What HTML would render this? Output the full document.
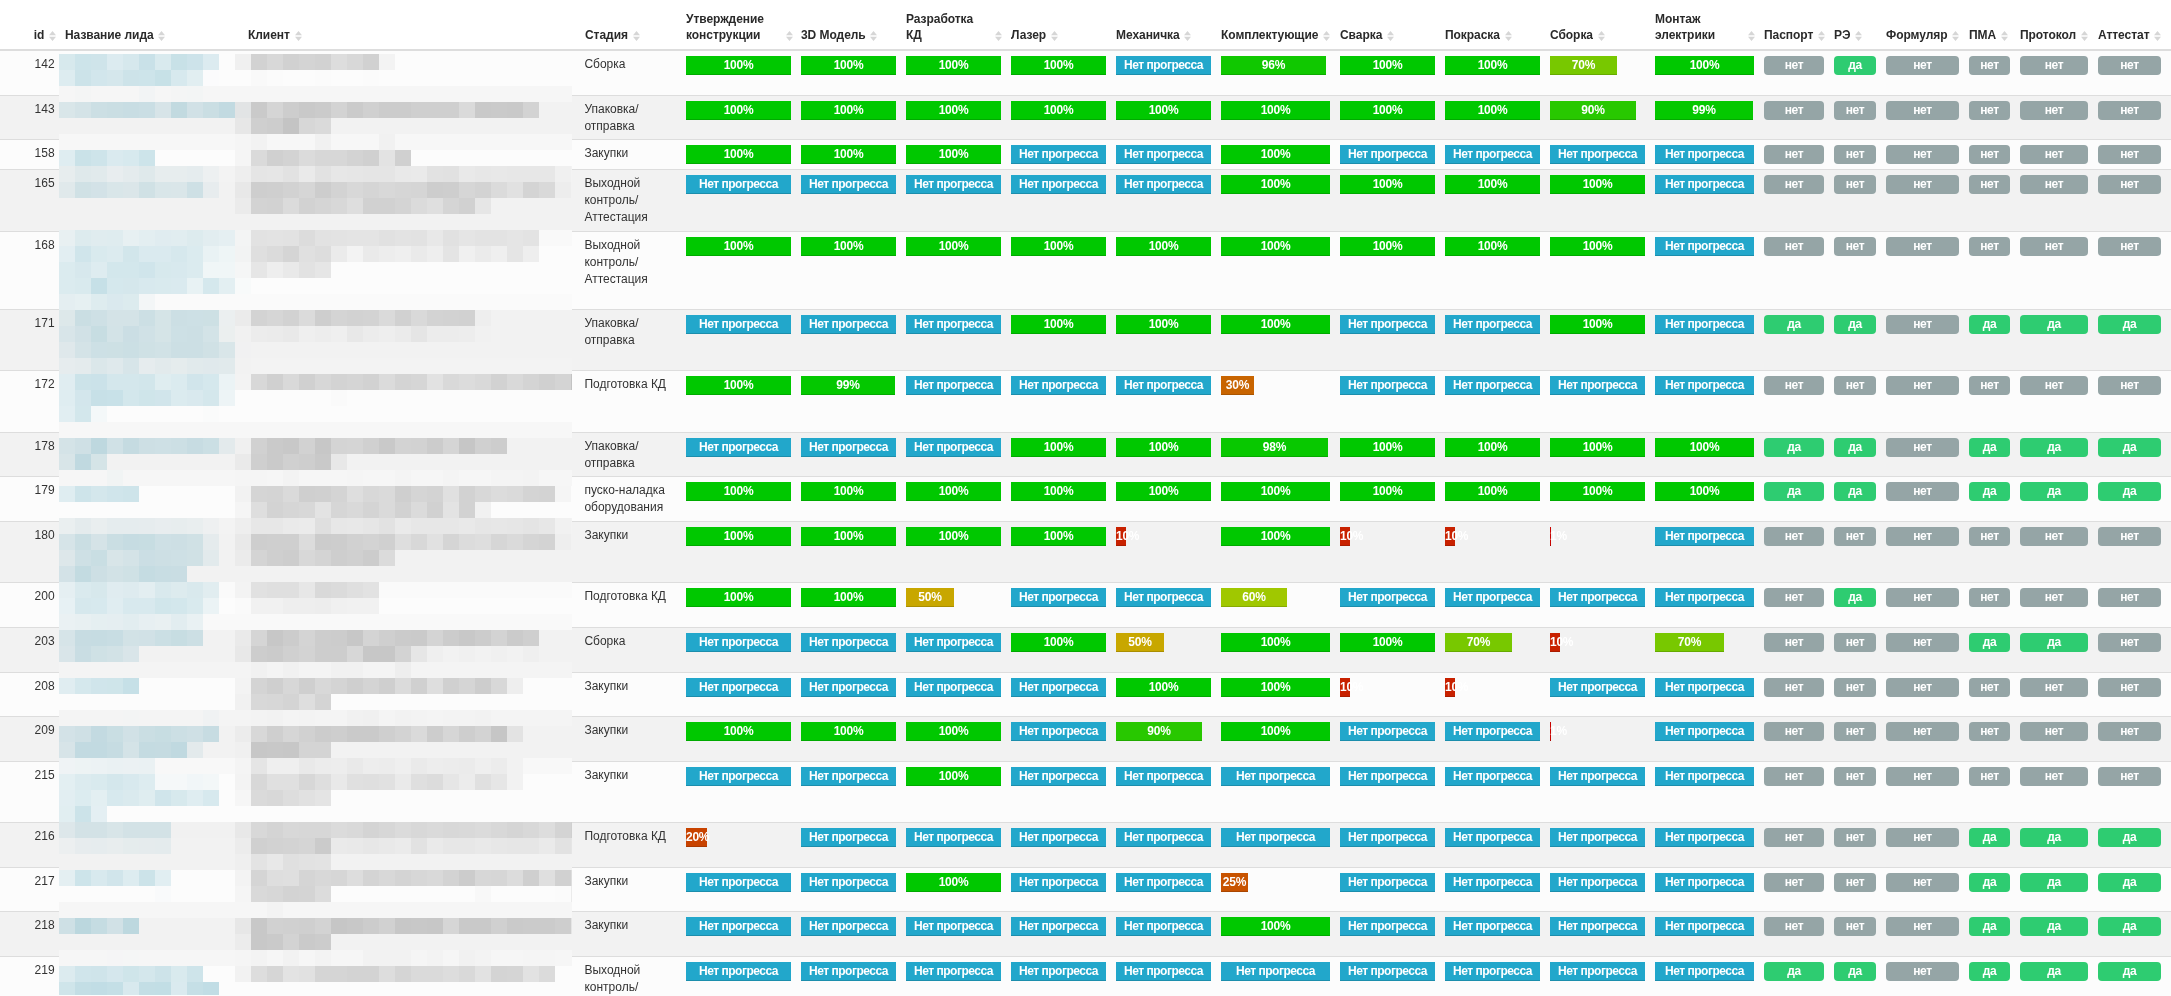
<!DOCTYPE html>
<html lang="ru"><head><meta charset="utf-8"><title>Leads</title>
<style>
html,body{margin:0;padding:0}
body{width:2171px;height:996px;overflow:hidden;position:relative;background:#fff;
 font-family:"Liberation Sans",sans-serif;font-size:12px;line-height:16.8px;color:#333333}
#w{position:absolute;left:0;top:0;width:2171px;height:996px;overflow:hidden;will-change:transform}
.h{position:absolute;display:flex;align-items:flex-end;font-weight:bold;bottom:953px;line-height:16px;color:#2a2a2a;letter-spacing:-.05px}
.h.ra{justify-content:flex-end}
.h svg{display:block;flex:none;width:7px;height:10px;margin:0 0 2px 4.7px}
.hb{position:absolute;left:0;top:49px;width:2171px;height:2px;background:#dddddd;z-index:3}
.r{position:absolute;left:0;width:2171px;box-sizing:border-box;border-top:1px solid #dddddd}
.r.o{background:#fcfcfc}.r.e{background:#f2f2f2}
.c{position:absolute;top:5px}
.id{text-align:right;left:0;width:54.6px}
.p{position:absolute;top:5px;height:19px}
.b{height:19px;line-height:19px;color:#fff;font-weight:bold;text-align:center;white-space:nowrap;letter-spacing:-.25px;
 box-shadow:inset 0 -1px 0 rgba(0,0,0,.15)}
.np{background:#22a7cb;letter-spacing:-.48px}
.g{position:absolute;top:5px;height:19px;line-height:19px;border-radius:4px;color:#fff;font-weight:bold;text-align:center;letter-spacing:-.3px;background:#95a5a6}
.g.y{background:#2ecc71}
</style></head><body><div id="w">
<div class="h ra" style="left:5px;width:51px"><span>id</span><svg viewBox="0 0 7 10"><path d="M3.5 0L7 4.2H0zM0 5.8h7L3.5 10z" fill="#d6d6d6"/></svg></div>
<div class="h" style="left:65px;width:173px"><span>Название лида</span><svg viewBox="0 0 7 10"><path d="M3.5 0L7 4.2H0zM0 5.8h7L3.5 10z" fill="#d6d6d6"/></svg></div>
<div class="h" style="left:248px;width:327px"><span>Клиент</span><svg viewBox="0 0 7 10"><path d="M3.5 0L7 4.2H0zM0 5.8h7L3.5 10z" fill="#d6d6d6"/></svg></div>
<div class="h" style="left:585px;width:91px"><span>Стадия</span><svg viewBox="0 0 7 10"><path d="M3.5 0L7 4.2H0zM0 5.8h7L3.5 10z" fill="#d6d6d6"/></svg></div>
<div class="h" style="left:686px;width:107.2px"><span>Утверждение конструкции</span><svg viewBox="0 0 7 10"><path d="M3.5 0L7 4.2H0zM0 5.8h7L3.5 10z" fill="#d6d6d6"/></svg></div>
<div class="h" style="left:801px;width:95px"><span>3D Модель</span><svg viewBox="0 0 7 10"><path d="M3.5 0L7 4.2H0zM0 5.8h7L3.5 10z" fill="#d6d6d6"/></svg></div>
<div class="h" style="left:906px;width:96.2px"><span>Разработка КД</span><svg viewBox="0 0 7 10"><path d="M3.5 0L7 4.2H0zM0 5.8h7L3.5 10z" fill="#d6d6d6"/></svg></div>
<div class="h" style="left:1011px;width:95px"><span>Лазер</span><svg viewBox="0 0 7 10"><path d="M3.5 0L7 4.2H0zM0 5.8h7L3.5 10z" fill="#d6d6d6"/></svg></div>
<div class="h" style="left:1116px;width:95px"><span>Механичка</span><svg viewBox="0 0 7 10"><path d="M3.5 0L7 4.2H0zM0 5.8h7L3.5 10z" fill="#d6d6d6"/></svg></div>
<div class="h" style="left:1221px;width:109px"><span>Комплектующие</span><svg viewBox="0 0 7 10"><path d="M3.5 0L7 4.2H0zM0 5.8h7L3.5 10z" fill="#d6d6d6"/></svg></div>
<div class="h" style="left:1340px;width:95px"><span>Сварка</span><svg viewBox="0 0 7 10"><path d="M3.5 0L7 4.2H0zM0 5.8h7L3.5 10z" fill="#d6d6d6"/></svg></div>
<div class="h" style="left:1445px;width:95px"><span>Покраска</span><svg viewBox="0 0 7 10"><path d="M3.5 0L7 4.2H0zM0 5.8h7L3.5 10z" fill="#d6d6d6"/></svg></div>
<div class="h" style="left:1550px;width:95px"><span>Сборка</span><svg viewBox="0 0 7 10"><path d="M3.5 0L7 4.2H0zM0 5.8h7L3.5 10z" fill="#d6d6d6"/></svg></div>
<div class="h" style="left:1655px;width:100.3px"><span>Монтаж электрики</span><svg viewBox="0 0 7 10"><path d="M3.5 0L7 4.2H0zM0 5.8h7L3.5 10z" fill="#d6d6d6"/></svg></div>
<div class="h" style="left:1764px;width:60px"><span>Паспорт</span><svg viewBox="0 0 7 10"><path d="M3.5 0L7 4.2H0zM0 5.8h7L3.5 10z" fill="#d6d6d6"/></svg></div>
<div class="h" style="left:1834px;width:42px"><span>РЭ</span><svg viewBox="0 0 7 10"><path d="M3.5 0L7 4.2H0zM0 5.8h7L3.5 10z" fill="#d6d6d6"/></svg></div>
<div class="h" style="left:1886px;width:73px"><span>Формуляр</span><svg viewBox="0 0 7 10"><path d="M3.5 0L7 4.2H0zM0 5.8h7L3.5 10z" fill="#d6d6d6"/></svg></div>
<div class="h" style="left:1969px;width:41px"><span>ПМА</span><svg viewBox="0 0 7 10"><path d="M3.5 0L7 4.2H0zM0 5.8h7L3.5 10z" fill="#d6d6d6"/></svg></div>
<div class="h" style="left:2020px;width:68px"><span>Протокол</span><svg viewBox="0 0 7 10"><path d="M3.5 0L7 4.2H0zM0 5.8h7L3.5 10z" fill="#d6d6d6"/></svg></div>
<div class="h" style="left:2098px;width:63px"><span>Аттестат</span><svg viewBox="0 0 7 10"><path d="M3.5 0L7 4.2H0zM0 5.8h7L3.5 10z" fill="#d6d6d6"/></svg></div>
<div class="hb"></div>
<div class="r o" style="top:50px;height:45px;border-top-color:transparent"><div class="c id">142</div><div class="c" style="left:584.4px;width:92px">Сборка</div><div class="p b" style="left:686px;width:105px;background:#00c800">100%</div><div class="p b" style="left:801px;width:95px;background:#00c800">100%</div><div class="p b" style="left:906px;width:95px;background:#00c800">100%</div><div class="p b" style="left:1011px;width:95px;background:#00c800">100%</div><div class="p b np" style="left:1116px;width:95px">Нет прогресса</div><div class="p b" style="left:1221px;width:105px;background:#10c800">96%</div><div class="p b" style="left:1340px;width:95px;background:#00c800">100%</div><div class="p b" style="left:1445px;width:95px;background:#00c800">100%</div><div class="p b" style="left:1550px;width:67px;background:#78c800">70%</div><div class="p b" style="left:1655px;width:99px;background:#00c800">100%</div><div class="g" style="left:1764px;width:60px">нет</div><div class="g y" style="left:1834px;width:42px">да</div><div class="g" style="left:1886px;width:73px">нет</div><div class="g" style="left:1969px;width:41px">нет</div><div class="g" style="left:2020px;width:68px">нет</div><div class="g" style="left:2098px;width:63px">нет</div></div>
<div class="r e" style="top:95px;height:44px"><div class="c id">143</div><div class="c" style="left:584.4px;width:92px">Упаковка/ отправка</div><div class="p b" style="left:686px;width:105px;background:#00c800">100%</div><div class="p b" style="left:801px;width:95px;background:#00c800">100%</div><div class="p b" style="left:906px;width:95px;background:#00c800">100%</div><div class="p b" style="left:1011px;width:95px;background:#00c800">100%</div><div class="p b" style="left:1116px;width:95px;background:#00c800">100%</div><div class="p b" style="left:1221px;width:109px;background:#00c800">100%</div><div class="p b" style="left:1340px;width:95px;background:#00c800">100%</div><div class="p b" style="left:1445px;width:95px;background:#00c800">100%</div><div class="p b" style="left:1550px;width:86px;background:#28c800">90%</div><div class="p b" style="left:1655px;width:98px;background:#04c800">99%</div><div class="g" style="left:1764px;width:60px">нет</div><div class="g" style="left:1834px;width:42px">нет</div><div class="g" style="left:1886px;width:73px">нет</div><div class="g" style="left:1969px;width:41px">нет</div><div class="g" style="left:2020px;width:68px">нет</div><div class="g" style="left:2098px;width:63px">нет</div></div>
<div class="r o" style="top:139px;height:30px"><div class="c id">158</div><div class="c" style="left:584.4px;width:92px">Закупки</div><div class="p b" style="left:686px;width:105px;background:#00c800">100%</div><div class="p b" style="left:801px;width:95px;background:#00c800">100%</div><div class="p b" style="left:906px;width:95px;background:#00c800">100%</div><div class="p b np" style="left:1011px;width:95px">Нет прогресса</div><div class="p b np" style="left:1116px;width:95px">Нет прогресса</div><div class="p b" style="left:1221px;width:109px;background:#00c800">100%</div><div class="p b np" style="left:1340px;width:95px">Нет прогресса</div><div class="p b np" style="left:1445px;width:95px">Нет прогресса</div><div class="p b np" style="left:1550px;width:95px">Нет прогресса</div><div class="p b np" style="left:1655px;width:99px">Нет прогресса</div><div class="g" style="left:1764px;width:60px">нет</div><div class="g" style="left:1834px;width:42px">нет</div><div class="g" style="left:1886px;width:73px">нет</div><div class="g" style="left:1969px;width:41px">нет</div><div class="g" style="left:2020px;width:68px">нет</div><div class="g" style="left:2098px;width:63px">нет</div></div>
<div class="r e" style="top:169px;height:62px"><div class="c id">165</div><div class="c" style="left:584.4px;width:92px">Выходной контроль/ Аттестация</div><div class="p b np" style="left:686px;width:105px">Нет прогресса</div><div class="p b np" style="left:801px;width:95px">Нет прогресса</div><div class="p b np" style="left:906px;width:95px">Нет прогресса</div><div class="p b np" style="left:1011px;width:95px">Нет прогресса</div><div class="p b np" style="left:1116px;width:95px">Нет прогресса</div><div class="p b" style="left:1221px;width:109px;background:#00c800">100%</div><div class="p b" style="left:1340px;width:95px;background:#00c800">100%</div><div class="p b" style="left:1445px;width:95px;background:#00c800">100%</div><div class="p b" style="left:1550px;width:95px;background:#00c800">100%</div><div class="p b np" style="left:1655px;width:99px">Нет прогресса</div><div class="g" style="left:1764px;width:60px">нет</div><div class="g" style="left:1834px;width:42px">нет</div><div class="g" style="left:1886px;width:73px">нет</div><div class="g" style="left:1969px;width:41px">нет</div><div class="g" style="left:2020px;width:68px">нет</div><div class="g" style="left:2098px;width:63px">нет</div></div>
<div class="r o" style="top:231px;height:78px"><div class="c id">168</div><div class="c" style="left:584.4px;width:92px">Выходной контроль/ Аттестация</div><div class="p b" style="left:686px;width:105px;background:#00c800">100%</div><div class="p b" style="left:801px;width:95px;background:#00c800">100%</div><div class="p b" style="left:906px;width:95px;background:#00c800">100%</div><div class="p b" style="left:1011px;width:95px;background:#00c800">100%</div><div class="p b" style="left:1116px;width:95px;background:#00c800">100%</div><div class="p b" style="left:1221px;width:109px;background:#00c800">100%</div><div class="p b" style="left:1340px;width:95px;background:#00c800">100%</div><div class="p b" style="left:1445px;width:95px;background:#00c800">100%</div><div class="p b" style="left:1550px;width:95px;background:#00c800">100%</div><div class="p b np" style="left:1655px;width:99px">Нет прогресса</div><div class="g" style="left:1764px;width:60px">нет</div><div class="g" style="left:1834px;width:42px">нет</div><div class="g" style="left:1886px;width:73px">нет</div><div class="g" style="left:1969px;width:41px">нет</div><div class="g" style="left:2020px;width:68px">нет</div><div class="g" style="left:2098px;width:63px">нет</div></div>
<div class="r e" style="top:309px;height:61px"><div class="c id">171</div><div class="c" style="left:584.4px;width:92px">Упаковка/ отправка</div><div class="p b np" style="left:686px;width:105px">Нет прогресса</div><div class="p b np" style="left:801px;width:95px">Нет прогресса</div><div class="p b np" style="left:906px;width:95px">Нет прогресса</div><div class="p b" style="left:1011px;width:95px;background:#00c800">100%</div><div class="p b" style="left:1116px;width:95px;background:#00c800">100%</div><div class="p b" style="left:1221px;width:109px;background:#00c800">100%</div><div class="p b np" style="left:1340px;width:95px">Нет прогресса</div><div class="p b np" style="left:1445px;width:95px">Нет прогресса</div><div class="p b" style="left:1550px;width:95px;background:#00c800">100%</div><div class="p b np" style="left:1655px;width:99px">Нет прогресса</div><div class="g y" style="left:1764px;width:60px">да</div><div class="g y" style="left:1834px;width:42px">да</div><div class="g" style="left:1886px;width:73px">нет</div><div class="g y" style="left:1969px;width:41px">да</div><div class="g y" style="left:2020px;width:68px">да</div><div class="g y" style="left:2098px;width:63px">да</div></div>
<div class="r o" style="top:370px;height:62px"><div class="c id">172</div><div class="c" style="left:584.4px;width:92px">Подготовка КД</div><div class="p b" style="left:686px;width:105px;background:#00c800">100%</div><div class="p b" style="left:801px;width:94px;background:#04c800">99%</div><div class="p b np" style="left:906px;width:95px">Нет прогресса</div><div class="p b np" style="left:1011px;width:95px">Нет прогресса</div><div class="p b np" style="left:1116px;width:95px">Нет прогресса</div><div class="p b" style="left:1221px;width:33px;background:#c86400">30%</div><div class="p b np" style="left:1340px;width:95px">Нет прогресса</div><div class="p b np" style="left:1445px;width:95px">Нет прогресса</div><div class="p b np" style="left:1550px;width:95px">Нет прогресса</div><div class="p b np" style="left:1655px;width:99px">Нет прогресса</div><div class="g" style="left:1764px;width:60px">нет</div><div class="g" style="left:1834px;width:42px">нет</div><div class="g" style="left:1886px;width:73px">нет</div><div class="g" style="left:1969px;width:41px">нет</div><div class="g" style="left:2020px;width:68px">нет</div><div class="g" style="left:2098px;width:63px">нет</div></div>
<div class="r e" style="top:432px;height:44px"><div class="c id">178</div><div class="c" style="left:584.4px;width:92px">Упаковка/ отправка</div><div class="p b np" style="left:686px;width:105px">Нет прогресса</div><div class="p b np" style="left:801px;width:95px">Нет прогресса</div><div class="p b np" style="left:906px;width:95px">Нет прогресса</div><div class="p b" style="left:1011px;width:95px;background:#00c800">100%</div><div class="p b" style="left:1116px;width:95px;background:#00c800">100%</div><div class="p b" style="left:1221px;width:107px;background:#08c800">98%</div><div class="p b" style="left:1340px;width:95px;background:#00c800">100%</div><div class="p b" style="left:1445px;width:95px;background:#00c800">100%</div><div class="p b" style="left:1550px;width:95px;background:#00c800">100%</div><div class="p b" style="left:1655px;width:99px;background:#00c800">100%</div><div class="g y" style="left:1764px;width:60px">да</div><div class="g y" style="left:1834px;width:42px">да</div><div class="g" style="left:1886px;width:73px">нет</div><div class="g y" style="left:1969px;width:41px">да</div><div class="g y" style="left:2020px;width:68px">да</div><div class="g y" style="left:2098px;width:63px">да</div></div>
<div class="r o" style="top:476px;height:45px"><div class="c id">179</div><div class="c" style="left:584.4px;width:92px">пуско-наладка оборудования</div><div class="p b" style="left:686px;width:105px;background:#00c800">100%</div><div class="p b" style="left:801px;width:95px;background:#00c800">100%</div><div class="p b" style="left:906px;width:95px;background:#00c800">100%</div><div class="p b" style="left:1011px;width:95px;background:#00c800">100%</div><div class="p b" style="left:1116px;width:95px;background:#00c800">100%</div><div class="p b" style="left:1221px;width:109px;background:#00c800">100%</div><div class="p b" style="left:1340px;width:95px;background:#00c800">100%</div><div class="p b" style="left:1445px;width:95px;background:#00c800">100%</div><div class="p b" style="left:1550px;width:95px;background:#00c800">100%</div><div class="p b" style="left:1655px;width:99px;background:#00c800">100%</div><div class="g y" style="left:1764px;width:60px">да</div><div class="g y" style="left:1834px;width:42px">да</div><div class="g" style="left:1886px;width:73px">нет</div><div class="g y" style="left:1969px;width:41px">да</div><div class="g y" style="left:2020px;width:68px">да</div><div class="g y" style="left:2098px;width:63px">да</div></div>
<div class="r e" style="top:521px;height:61px"><div class="c id">180</div><div class="c" style="left:584.4px;width:92px">Закупки</div><div class="p b" style="left:686px;width:105px;background:#00c800">100%</div><div class="p b" style="left:801px;width:95px;background:#00c800">100%</div><div class="p b" style="left:906px;width:95px;background:#00c800">100%</div><div class="p b" style="left:1011px;width:95px;background:#00c800">100%</div><div class="p b" style="left:1116px;width:10px;background:#c82100">10%</div><div class="p b" style="left:1221px;width:109px;background:#00c800">100%</div><div class="p b" style="left:1340px;width:10px;background:#c82100">10%</div><div class="p b" style="left:1445px;width:10px;background:#c82100">10%</div><div class="p b" style="left:1550px;width:1px;background:#c80300">1%</div><div class="p b np" style="left:1655px;width:99px">Нет прогресса</div><div class="g" style="left:1764px;width:60px">нет</div><div class="g" style="left:1834px;width:42px">нет</div><div class="g" style="left:1886px;width:73px">нет</div><div class="g" style="left:1969px;width:41px">нет</div><div class="g" style="left:2020px;width:68px">нет</div><div class="g" style="left:2098px;width:63px">нет</div></div>
<div class="r o" style="top:582px;height:45px"><div class="c id">200</div><div class="c" style="left:584.4px;width:92px">Подготовка КД</div><div class="p b" style="left:686px;width:105px;background:#00c800">100%</div><div class="p b" style="left:801px;width:95px;background:#00c800">100%</div><div class="p b" style="left:906px;width:48px;background:#c8a700">50%</div><div class="p b np" style="left:1011px;width:95px">Нет прогресса</div><div class="p b np" style="left:1116px;width:95px">Нет прогресса</div><div class="p b" style="left:1221px;width:66px;background:#a0c800">60%</div><div class="p b np" style="left:1340px;width:95px">Нет прогресса</div><div class="p b np" style="left:1445px;width:95px">Нет прогресса</div><div class="p b np" style="left:1550px;width:95px">Нет прогресса</div><div class="p b np" style="left:1655px;width:99px">Нет прогресса</div><div class="g" style="left:1764px;width:60px">нет</div><div class="g y" style="left:1834px;width:42px">да</div><div class="g" style="left:1886px;width:73px">нет</div><div class="g" style="left:1969px;width:41px">нет</div><div class="g" style="left:2020px;width:68px">нет</div><div class="g" style="left:2098px;width:63px">нет</div></div>
<div class="r e" style="top:627px;height:45px"><div class="c id">203</div><div class="c" style="left:584.4px;width:92px">Сборка</div><div class="p b np" style="left:686px;width:105px">Нет прогресса</div><div class="p b np" style="left:801px;width:95px">Нет прогресса</div><div class="p b np" style="left:906px;width:95px">Нет прогресса</div><div class="p b" style="left:1011px;width:95px;background:#00c800">100%</div><div class="p b" style="left:1116px;width:48px;background:#c8a700">50%</div><div class="p b" style="left:1221px;width:109px;background:#00c800">100%</div><div class="p b" style="left:1340px;width:95px;background:#00c800">100%</div><div class="p b" style="left:1445px;width:67px;background:#78c800">70%</div><div class="p b" style="left:1550px;width:10px;background:#c82100">10%</div><div class="p b" style="left:1655px;width:69px;background:#78c800">70%</div><div class="g" style="left:1764px;width:60px">нет</div><div class="g" style="left:1834px;width:42px">нет</div><div class="g" style="left:1886px;width:73px">нет</div><div class="g y" style="left:1969px;width:41px">да</div><div class="g y" style="left:2020px;width:68px">да</div><div class="g" style="left:2098px;width:63px">нет</div></div>
<div class="r o" style="top:672px;height:44px"><div class="c id">208</div><div class="c" style="left:584.4px;width:92px">Закупки</div><div class="p b np" style="left:686px;width:105px">Нет прогресса</div><div class="p b np" style="left:801px;width:95px">Нет прогресса</div><div class="p b np" style="left:906px;width:95px">Нет прогресса</div><div class="p b np" style="left:1011px;width:95px">Нет прогресса</div><div class="p b" style="left:1116px;width:95px;background:#00c800">100%</div><div class="p b" style="left:1221px;width:109px;background:#00c800">100%</div><div class="p b" style="left:1340px;width:10px;background:#c82100">10%</div><div class="p b" style="left:1445px;width:10px;background:#c82100">10%</div><div class="p b np" style="left:1550px;width:95px">Нет прогресса</div><div class="p b np" style="left:1655px;width:99px">Нет прогресса</div><div class="g" style="left:1764px;width:60px">нет</div><div class="g" style="left:1834px;width:42px">нет</div><div class="g" style="left:1886px;width:73px">нет</div><div class="g" style="left:1969px;width:41px">нет</div><div class="g" style="left:2020px;width:68px">нет</div><div class="g" style="left:2098px;width:63px">нет</div></div>
<div class="r e" style="top:716px;height:45px"><div class="c id">209</div><div class="c" style="left:584.4px;width:92px">Закупки</div><div class="p b" style="left:686px;width:105px;background:#00c800">100%</div><div class="p b" style="left:801px;width:95px;background:#00c800">100%</div><div class="p b" style="left:906px;width:95px;background:#00c800">100%</div><div class="p b np" style="left:1011px;width:95px">Нет прогресса</div><div class="p b" style="left:1116px;width:86px;background:#28c800">90%</div><div class="p b" style="left:1221px;width:109px;background:#00c800">100%</div><div class="p b np" style="left:1340px;width:95px">Нет прогресса</div><div class="p b np" style="left:1445px;width:95px">Нет прогресса</div><div class="p b" style="left:1550px;width:1px;background:#c80300">1%</div><div class="p b np" style="left:1655px;width:99px">Нет прогресса</div><div class="g" style="left:1764px;width:60px">нет</div><div class="g" style="left:1834px;width:42px">нет</div><div class="g" style="left:1886px;width:73px">нет</div><div class="g" style="left:1969px;width:41px">нет</div><div class="g" style="left:2020px;width:68px">нет</div><div class="g" style="left:2098px;width:63px">нет</div></div>
<div class="r o" style="top:761px;height:61px"><div class="c id">215</div><div class="c" style="left:584.4px;width:92px">Закупки</div><div class="p b np" style="left:686px;width:105px">Нет прогресса</div><div class="p b np" style="left:801px;width:95px">Нет прогресса</div><div class="p b" style="left:906px;width:95px;background:#00c800">100%</div><div class="p b np" style="left:1011px;width:95px">Нет прогресса</div><div class="p b np" style="left:1116px;width:95px">Нет прогресса</div><div class="p b np" style="left:1221px;width:109px">Нет прогресса</div><div class="p b np" style="left:1340px;width:95px">Нет прогресса</div><div class="p b np" style="left:1445px;width:95px">Нет прогресса</div><div class="p b np" style="left:1550px;width:95px">Нет прогресса</div><div class="p b np" style="left:1655px;width:99px">Нет прогресса</div><div class="g" style="left:1764px;width:60px">нет</div><div class="g" style="left:1834px;width:42px">нет</div><div class="g" style="left:1886px;width:73px">нет</div><div class="g" style="left:1969px;width:41px">нет</div><div class="g" style="left:2020px;width:68px">нет</div><div class="g" style="left:2098px;width:63px">нет</div></div>
<div class="r e" style="top:822px;height:45px"><div class="c id">216</div><div class="c" style="left:584.4px;width:92px">Подготовка КД</div><div class="p b" style="left:686px;width:21px;background:#c84300">20%</div><div class="p b np" style="left:801px;width:95px">Нет прогресса</div><div class="p b np" style="left:906px;width:95px">Нет прогресса</div><div class="p b np" style="left:1011px;width:95px">Нет прогресса</div><div class="p b np" style="left:1116px;width:95px">Нет прогресса</div><div class="p b np" style="left:1221px;width:109px">Нет прогресса</div><div class="p b np" style="left:1340px;width:95px">Нет прогресса</div><div class="p b np" style="left:1445px;width:95px">Нет прогресса</div><div class="p b np" style="left:1550px;width:95px">Нет прогресса</div><div class="p b np" style="left:1655px;width:99px">Нет прогресса</div><div class="g" style="left:1764px;width:60px">нет</div><div class="g" style="left:1834px;width:42px">нет</div><div class="g" style="left:1886px;width:73px">нет</div><div class="g y" style="left:1969px;width:41px">да</div><div class="g y" style="left:2020px;width:68px">да</div><div class="g y" style="left:2098px;width:63px">да</div></div>
<div class="r o" style="top:867px;height:44px"><div class="c id">217</div><div class="c" style="left:584.4px;width:92px">Закупки</div><div class="p b np" style="left:686px;width:105px">Нет прогресса</div><div class="p b np" style="left:801px;width:95px">Нет прогресса</div><div class="p b" style="left:906px;width:95px;background:#00c800">100%</div><div class="p b np" style="left:1011px;width:95px">Нет прогресса</div><div class="p b np" style="left:1116px;width:95px">Нет прогресса</div><div class="p b" style="left:1221px;width:27px;background:#c85300">25%</div><div class="p b np" style="left:1340px;width:95px">Нет прогресса</div><div class="p b np" style="left:1445px;width:95px">Нет прогресса</div><div class="p b np" style="left:1550px;width:95px">Нет прогресса</div><div class="p b np" style="left:1655px;width:99px">Нет прогресса</div><div class="g" style="left:1764px;width:60px">нет</div><div class="g" style="left:1834px;width:42px">нет</div><div class="g" style="left:1886px;width:73px">нет</div><div class="g y" style="left:1969px;width:41px">да</div><div class="g y" style="left:2020px;width:68px">да</div><div class="g y" style="left:2098px;width:63px">да</div></div>
<div class="r e" style="top:911px;height:45px"><div class="c id">218</div><div class="c" style="left:584.4px;width:92px">Закупки</div><div class="p b np" style="left:686px;width:105px">Нет прогресса</div><div class="p b np" style="left:801px;width:95px">Нет прогресса</div><div class="p b np" style="left:906px;width:95px">Нет прогресса</div><div class="p b np" style="left:1011px;width:95px">Нет прогресса</div><div class="p b np" style="left:1116px;width:95px">Нет прогресса</div><div class="p b" style="left:1221px;width:109px;background:#00c800">100%</div><div class="p b np" style="left:1340px;width:95px">Нет прогресса</div><div class="p b np" style="left:1445px;width:95px">Нет прогресса</div><div class="p b np" style="left:1550px;width:95px">Нет прогресса</div><div class="p b np" style="left:1655px;width:99px">Нет прогресса</div><div class="g" style="left:1764px;width:60px">нет</div><div class="g" style="left:1834px;width:42px">нет</div><div class="g" style="left:1886px;width:73px">нет</div><div class="g y" style="left:1969px;width:41px">да</div><div class="g y" style="left:2020px;width:68px">да</div><div class="g y" style="left:2098px;width:63px">да</div></div>
<div class="r o" style="top:956px;height:62px"><div class="c id">219</div><div class="c" style="left:584.4px;width:92px">Выходной контроль/ Аттестация</div><div class="p b np" style="left:686px;width:105px">Нет прогресса</div><div class="p b np" style="left:801px;width:95px">Нет прогресса</div><div class="p b np" style="left:906px;width:95px">Нет прогресса</div><div class="p b np" style="left:1011px;width:95px">Нет прогресса</div><div class="p b np" style="left:1116px;width:95px">Нет прогресса</div><div class="p b np" style="left:1221px;width:109px">Нет прогресса</div><div class="p b np" style="left:1340px;width:95px">Нет прогресса</div><div class="p b np" style="left:1445px;width:95px">Нет прогресса</div><div class="p b np" style="left:1550px;width:95px">Нет прогресса</div><div class="p b np" style="left:1655px;width:99px">Нет прогресса</div><div class="g y" style="left:1764px;width:60px">да</div><div class="g y" style="left:1834px;width:42px">да</div><div class="g" style="left:1886px;width:73px">нет</div><div class="g y" style="left:1969px;width:41px">да</div><div class="g y" style="left:2020px;width:68px">да</div><div class="g y" style="left:2098px;width:63px">да</div></div>
<svg width="2171" height="996" viewBox="0 0 2171 996" shape-rendering="crispEdges" style="position:absolute;left:0;top:0">
<path fill="#d7e9ed" d="M59 54h16v16h-16zM155 262h16v16h-16zM171 790h16v16h-16z"/>
<path fill="#cde4ea" d="M75 54h16v16h-16zM139 70h16v16h-16zM139 150h16v16h-16zM75 870h16v16h-16z"/>
<path fill="#cfe4ea" d="M91 54h16v16h-16zM91 966h16v16h-16z"/>
<path fill="#dcebf0" d="M107 54h16v16h-16zM203 54h16v16h-16z"/>
<path fill="#d6e8ed" d="M123 54h16v16h-16zM171 246h16v16h-16zM75 598h16v16h-16z"/>
<path fill="#c9e1e8" d="M139 54h16v16h-16z"/>
<path fill="#d9eaee" d="M155 54h16v16h-16zM91 246h16v16h-16zM75 278h16v16h-16zM155 278h16v16h-16zM187 598h16v16h-16zM91 774h16v16h-16zM171 966h16v16h-16z"/>
<path fill="#c8e1e7" d="M171 54h16v16h-16z"/>
<path fill="#cde3ea" d="M187 54h16v16h-16z"/>
<path fill="#fcfcfc" d="M219 54h16v16h-16zM395 54h16v16h-16zM411 54h16v16h-16zM427 54h16v16h-16zM443 54h16v16h-16zM459 54h16v16h-16zM475 54h16v16h-16zM491 54h16v16h-16zM507 54h16v16h-16zM523 54h16v16h-16zM539 54h16v16h-16zM555 54h16v16h-16zM571 54h1v16h-1zM219 70h16v16h-16zM235 70h16v16h-16zM283 70h16v16h-16zM299 70h16v16h-16zM331 70h16v16h-16zM347 70h16v16h-16zM379 70h16v16h-16zM395 70h16v16h-16zM411 70h16v16h-16zM427 70h16v16h-16zM443 70h16v16h-16zM459 70h16v16h-16zM475 70h16v16h-16zM491 70h16v16h-16zM507 70h16v16h-16zM523 70h16v16h-16zM539 70h16v16h-16zM555 70h16v16h-16zM571 70h1v16h-1zM155 150h16v16h-16zM171 150h16v16h-16zM187 150h16v16h-16zM203 150h16v16h-16zM219 150h16v16h-16zM411 150h16v16h-16zM427 150h16v16h-16zM443 150h16v16h-16zM459 150h16v16h-16zM475 150h16v16h-16zM491 150h16v16h-16zM507 150h16v16h-16zM523 150h16v16h-16zM539 150h16v16h-16zM555 150h16v16h-16zM571 150h1v16h-1zM539 246h16v16h-16zM555 246h16v16h-16zM571 246h1v16h-1zM331 262h16v16h-16zM347 262h16v16h-16zM363 262h16v16h-16zM379 262h16v16h-16zM395 262h16v16h-16zM411 262h16v16h-16zM427 262h16v16h-16zM443 262h16v16h-16zM459 262h16v16h-16zM475 262h16v16h-16zM491 262h16v16h-16zM507 262h16v16h-16zM523 262h16v16h-16zM539 262h16v16h-16zM555 262h16v16h-16zM571 262h1v16h-1zM251 278h16v16h-16zM267 278h16v16h-16zM283 278h16v16h-16zM299 278h16v16h-16zM315 278h16v16h-16zM331 278h16v16h-16zM347 278h16v16h-16zM363 278h16v16h-16zM379 278h16v16h-16zM395 278h16v16h-16zM411 278h16v16h-16zM427 278h16v16h-16zM443 278h16v16h-16zM459 278h16v16h-16zM475 278h16v16h-16zM491 278h16v16h-16zM507 278h16v16h-16zM523 278h16v16h-16zM539 278h16v16h-16zM555 278h16v16h-16zM571 278h1v16h-1zM235 390h16v16h-16zM251 390h16v16h-16zM267 390h16v16h-16zM283 390h16v16h-16zM299 390h16v16h-16zM315 390h16v16h-16zM347 390h16v16h-16zM363 390h16v16h-16zM379 390h16v16h-16zM395 390h16v16h-16zM411 390h16v16h-16zM427 390h16v16h-16zM443 390h16v16h-16zM459 390h16v16h-16zM475 390h16v16h-16zM491 390h16v16h-16zM507 390h16v16h-16zM523 390h16v16h-16zM539 390h16v16h-16zM555 390h16v16h-16zM571 390h1v16h-1zM107 406h16v16h-16zM123 406h16v16h-16zM139 406h16v16h-16zM155 406h16v16h-16zM171 406h16v16h-16zM187 406h16v16h-16zM219 406h16v16h-16zM235 406h16v16h-16zM251 406h16v16h-16zM267 406h16v16h-16zM283 406h16v16h-16zM299 406h16v16h-16zM315 406h16v16h-16zM331 406h16v16h-16zM347 406h16v16h-16zM363 406h16v16h-16zM379 406h16v16h-16zM395 406h16v16h-16zM411 406h16v16h-16zM427 406h16v16h-16zM443 406h16v16h-16zM459 406h16v16h-16zM475 406h16v16h-16zM491 406h16v16h-16zM507 406h16v16h-16zM523 406h16v16h-16zM539 406h16v16h-16zM555 406h16v16h-16zM571 406h1v16h-1zM139 486h16v16h-16zM155 486h16v16h-16zM171 486h16v16h-16zM187 486h16v16h-16zM203 486h16v16h-16zM219 486h16v16h-16zM571 486h1v16h-1zM59 502h16v16h-16zM75 502h16v16h-16zM91 502h16v16h-16zM107 502h16v16h-16zM123 502h16v16h-16zM139 502h16v16h-16zM155 502h16v16h-16zM171 502h16v16h-16zM187 502h16v16h-16zM203 502h16v16h-16zM219 502h16v16h-16zM491 502h16v16h-16zM507 502h16v16h-16zM523 502h16v16h-16zM539 502h16v16h-16zM555 502h16v16h-16zM571 502h1v16h-1zM219 598h16v16h-16zM379 598h16v16h-16zM395 598h16v16h-16zM411 598h16v16h-16zM427 598h16v16h-16zM443 598h16v16h-16zM459 598h16v16h-16zM475 598h16v16h-16zM491 598h16v16h-16zM507 598h16v16h-16zM523 598h16v16h-16zM539 598h16v16h-16zM555 598h16v16h-16zM571 598h1v16h-1zM139 678h16v16h-16zM155 678h16v16h-16zM171 678h16v16h-16zM187 678h16v16h-16zM203 678h16v16h-16zM219 678h16v16h-16zM523 678h16v16h-16zM539 678h16v16h-16zM555 678h16v16h-16zM571 678h1v16h-1zM59 694h16v16h-16zM75 694h16v16h-16zM91 694h16v16h-16zM107 694h16v16h-16zM123 694h16v16h-16zM139 694h16v16h-16zM155 694h16v16h-16zM171 694h16v16h-16zM187 694h16v16h-16zM203 694h16v16h-16zM219 694h16v16h-16zM331 694h16v16h-16zM347 694h16v16h-16zM363 694h16v16h-16zM379 694h16v16h-16zM395 694h16v16h-16zM411 694h16v16h-16zM427 694h16v16h-16zM443 694h16v16h-16zM459 694h16v16h-16zM475 694h16v16h-16zM491 694h16v16h-16zM507 694h16v16h-16zM523 694h16v16h-16zM539 694h16v16h-16zM555 694h16v16h-16zM571 694h1v16h-1zM219 774h16v16h-16zM523 774h16v16h-16zM539 774h16v16h-16zM555 774h16v16h-16zM571 774h1v16h-1zM219 790h16v16h-16zM331 790h16v16h-16zM347 790h16v16h-16zM363 790h16v16h-16zM379 790h16v16h-16zM395 790h16v16h-16zM411 790h16v16h-16zM427 790h16v16h-16zM443 790h16v16h-16zM459 790h16v16h-16zM475 790h16v16h-16zM491 790h16v16h-16zM507 790h16v16h-16zM523 790h16v16h-16zM539 790h16v16h-16zM555 790h16v16h-16zM571 790h1v16h-1zM107 806h16v16h-16zM123 806h16v16h-16zM139 806h16v16h-16zM155 806h16v16h-16zM171 806h16v16h-16zM187 806h16v16h-16zM203 806h16v16h-16zM219 806h16v16h-16zM235 806h16v16h-16zM251 806h16v16h-16zM267 806h16v16h-16zM283 806h16v16h-16zM299 806h16v16h-16zM315 806h16v16h-16zM331 806h16v16h-16zM347 806h16v16h-16zM363 806h16v16h-16zM379 806h16v16h-16zM395 806h16v16h-16zM411 806h16v16h-16zM427 806h16v16h-16zM443 806h16v16h-16zM459 806h16v16h-16zM475 806h16v16h-16zM491 806h16v16h-16zM507 806h16v16h-16zM523 806h16v16h-16zM539 806h16v16h-16zM555 806h16v16h-16zM571 806h1v16h-1zM171 870h16v16h-16zM187 870h16v16h-16zM203 870h16v16h-16zM219 870h16v16h-16zM59 886h16v16h-16zM75 886h16v16h-16zM91 886h16v16h-16zM107 886h16v16h-16zM123 886h16v16h-16zM139 886h16v16h-16zM171 886h16v16h-16zM187 886h16v16h-16zM203 886h16v16h-16zM219 886h16v16h-16zM331 886h16v16h-16zM347 886h16v16h-16zM363 886h16v16h-16zM379 886h16v16h-16zM395 886h16v16h-16zM411 886h16v16h-16zM427 886h16v16h-16zM443 886h16v16h-16zM459 886h16v16h-16zM491 886h16v16h-16zM507 886h16v16h-16zM523 886h16v16h-16zM539 886h16v16h-16zM203 966h16v16h-16zM219 966h16v16h-16zM555 966h16v16h-16zM571 966h1v16h-1zM219 982h16v13h-16zM235 982h16v13h-16zM251 982h16v13h-16zM267 982h16v13h-16zM283 982h16v13h-16zM299 982h16v13h-16zM315 982h16v13h-16zM331 982h16v13h-16zM347 982h16v13h-16zM363 982h16v13h-16zM379 982h16v13h-16zM395 982h16v13h-16zM411 982h16v13h-16zM427 982h16v13h-16zM443 982h16v13h-16zM459 982h16v13h-16zM475 982h16v13h-16zM491 982h16v13h-16zM507 982h16v13h-16zM523 982h16v13h-16zM539 982h16v13h-16zM555 982h16v13h-16zM571 982h1v13h-1z"/>
<path fill="#f0f0f0" d="M235 54h16v16h-16zM555 166h16v16h-16zM459 246h16v16h-16zM235 438h16v16h-16zM331 598h16v16h-16zM459 646h16v16h-16zM491 646h16v16h-16zM363 710h16v16h-16zM235 742h16v16h-16z"/>
<path fill="#d2d2d2" d="M251 54h16v16h-16zM315 54h16v16h-16zM283 182h16v16h-16zM267 198h16v16h-16zM299 198h16v16h-16zM283 310h16v16h-16zM347 310h16v16h-16zM443 310h16v16h-16zM363 374h16v16h-16zM491 374h16v16h-16zM299 438h16v16h-16zM411 438h16v16h-16zM459 486h16v16h-16zM395 502h16v16h-16zM459 502h16v16h-16zM267 838h16v16h-16z"/>
<path fill="#d8d8d8" d="M267 54h16v16h-16zM347 54h16v16h-16zM347 182h16v16h-16zM379 182h16v16h-16zM331 198h16v16h-16zM251 374h16v16h-16zM363 486h16v16h-16zM475 486h16v16h-16zM299 502h16v16h-16zM411 534h16v16h-16zM299 550h16v16h-16zM315 678h16v16h-16zM491 678h16v16h-16zM251 694h16v16h-16zM251 726h16v16h-16zM251 774h16v16h-16zM267 790h16v16h-16zM251 822h16v16h-16zM283 822h16v16h-16zM411 822h16v16h-16zM443 822h16v16h-16zM491 822h16v16h-16zM523 822h16v16h-16zM315 870h16v16h-16zM379 870h16v16h-16z"/>
<path fill="#d1d1d1" d="M283 54h16v16h-16zM363 54h16v16h-16zM363 198h16v16h-16zM379 198h16v16h-16zM459 198h16v16h-16zM395 310h16v16h-16zM459 310h16v16h-16zM251 438h16v16h-16zM427 502h16v16h-16zM347 534h16v16h-16zM299 726h16v16h-16zM555 870h16v16h-16zM267 918h16v16h-16zM379 918h16v16h-16z"/>
<path fill="#d4d4d4" d="M299 54h16v16h-16zM523 182h16v16h-16zM395 198h16v16h-16zM331 310h16v16h-16zM395 374h16v16h-16zM523 374h16v16h-16zM555 374h16v16h-16zM331 438h16v16h-16zM267 486h16v16h-16zM331 486h16v16h-16zM523 486h16v16h-16zM363 502h16v16h-16zM251 550h16v16h-16zM315 550h16v16h-16zM299 630h16v16h-16zM363 630h16v16h-16zM427 630h16v16h-16zM251 678h16v16h-16zM331 678h16v16h-16zM363 678h16v16h-16zM283 694h16v16h-16zM315 694h16v16h-16zM299 742h16v16h-16zM315 742h16v16h-16zM267 822h16v16h-16zM363 822h16v16h-16zM555 822h16v16h-16zM363 870h16v16h-16zM395 870h16v16h-16zM299 886h16v16h-16zM491 966h16v16h-16z"/>
<path fill="#dddddd" d="M331 54h16v16h-16zM315 246h16v16h-16zM283 790h16v16h-16zM539 822h16v16h-16zM347 870h16v16h-16zM251 966h16v16h-16zM379 966h16v16h-16zM443 966h16v16h-16z"/>
<path fill="#f3f3f3" d="M379 54h16v16h-16zM219 166h16v16h-16zM571 166h1v16h-1zM347 246h16v16h-16zM251 358h16v16h-16zM267 358h16v16h-16zM283 358h16v16h-16zM299 358h16v16h-16zM315 358h16v16h-16zM331 358h16v16h-16zM347 358h16v16h-16zM363 358h16v16h-16zM379 358h16v16h-16zM395 358h16v16h-16zM411 358h16v16h-16zM427 358h16v16h-16zM443 358h16v16h-16zM459 358h16v16h-16zM475 358h16v16h-16zM491 358h16v16h-16zM507 358h16v16h-16zM523 358h16v16h-16zM539 358h16v16h-16zM555 358h16v16h-16zM571 358h1v16h-1zM235 374h16v16h-16zM283 470h16v16h-16zM523 470h16v16h-16zM219 518h16v16h-16zM571 518h1v16h-1zM235 582h16v16h-16zM235 678h16v16h-16zM251 710h16v16h-16zM299 710h16v16h-16zM411 710h16v16h-16zM443 710h16v16h-16zM459 710h16v16h-16zM235 774h16v16h-16zM235 870h16v16h-16zM267 902h16v16h-16zM251 950h16v16h-16zM315 950h16v16h-16zM427 950h16v16h-16zM475 950h16v16h-16z"/>
<path fill="#ddecf0" d="M59 70h16v16h-16zM139 774h16v16h-16zM123 870h16v16h-16z"/>
<path fill="#cce3e9" d="M75 70h16v16h-16zM75 374h16v16h-16zM75 806h16v16h-16zM139 870h16v16h-16z"/>
<path fill="#d2e6ec" d="M91 70h16v16h-16z"/>
<path fill="#d5e7ec" d="M107 70h16v16h-16zM123 278h16v16h-16z"/>
<path fill="#cde3e9" d="M123 70h16v16h-16zM155 966h16v16h-16z"/>
<path fill="#c7e1e7" d="M155 70h16v16h-16z"/>
<path fill="#d7e9ee" d="M171 70h16v16h-16zM123 150h16v16h-16zM91 598h16v16h-16zM107 790h16v16h-16zM203 790h16v16h-16z"/>
<path fill="#e1eef1" d="M187 70h16v16h-16zM59 806h16v16h-16z"/>
<path fill="#fbfbfc" d="M203 70h16v16h-16z"/>
<path fill="#f9f9f9" d="M251 70h16v16h-16zM539 230h16v16h-16zM555 230h16v16h-16zM571 230h1v16h-1zM203 614h16v16h-16zM219 614h16v16h-16zM235 614h16v16h-16zM251 614h16v16h-16zM267 614h16v16h-16zM283 614h16v16h-16zM299 614h16v16h-16zM315 614h16v16h-16zM331 614h16v16h-16zM347 614h16v16h-16zM363 614h16v16h-16zM379 614h16v16h-16zM395 614h16v16h-16zM411 614h16v16h-16zM427 614h16v16h-16zM443 614h16v16h-16zM459 614h16v16h-16zM475 614h16v16h-16zM491 614h16v16h-16zM507 614h16v16h-16zM523 614h16v16h-16zM539 614h16v16h-16zM555 614h16v16h-16zM571 614h1v16h-1z"/>
<path fill="#fbfbfb" d="M267 70h16v16h-16zM315 70h16v16h-16zM363 70h16v16h-16zM555 886h16v16h-16z"/>
<path fill="#f6f6f6" d="M59 86h16v16h-16zM91 86h16v16h-16zM107 86h16v16h-16zM123 86h16v16h-16zM155 86h16v16h-16zM203 86h16v16h-16zM219 86h16v16h-16zM235 86h16v16h-16zM251 86h16v16h-16zM267 86h16v16h-16zM283 86h16v16h-16zM299 86h16v16h-16zM315 86h16v16h-16zM331 86h16v16h-16zM347 86h16v16h-16zM363 86h16v16h-16zM379 86h16v16h-16zM395 86h16v16h-16zM411 86h16v16h-16zM427 86h16v16h-16zM443 86h16v16h-16zM459 86h16v16h-16zM475 86h16v16h-16zM491 86h16v16h-16zM507 86h16v16h-16zM523 86h16v16h-16zM539 86h16v16h-16zM555 86h16v16h-16zM571 86h1v16h-1zM59 470h16v16h-16zM75 470h16v16h-16zM91 470h16v16h-16zM123 470h16v16h-16zM139 470h16v16h-16zM155 470h16v16h-16zM171 470h16v16h-16zM187 470h16v16h-16zM203 470h16v16h-16zM219 470h16v16h-16zM267 470h16v16h-16zM299 470h16v16h-16zM315 470h16v16h-16zM331 470h16v16h-16zM363 470h16v16h-16zM379 470h16v16h-16zM411 470h16v16h-16zM427 470h16v16h-16zM459 470h16v16h-16zM475 470h16v16h-16zM539 470h16v16h-16zM555 470h16v16h-16zM571 470h1v16h-1zM235 790h16v16h-16zM59 902h16v16h-16zM75 902h16v16h-16zM91 902h16v16h-16zM107 902h16v16h-16zM123 902h16v16h-16zM139 902h16v16h-16zM155 902h16v16h-16zM171 902h16v16h-16zM187 902h16v16h-16zM203 902h16v16h-16zM219 902h16v16h-16zM235 902h16v16h-16zM251 902h16v16h-16zM283 902h16v16h-16zM299 902h16v16h-16zM315 902h16v16h-16zM331 902h16v16h-16zM347 902h16v16h-16zM363 902h16v16h-16zM379 902h16v16h-16zM395 902h16v16h-16zM411 902h16v16h-16zM427 902h16v16h-16zM443 902h16v16h-16zM459 902h16v16h-16zM475 902h16v16h-16zM491 902h16v16h-16zM507 902h16v16h-16zM523 902h16v16h-16zM539 902h16v16h-16zM555 902h16v16h-16zM571 902h1v16h-1zM59 950h16v16h-16zM75 950h16v16h-16zM91 950h16v16h-16zM139 950h16v16h-16zM155 950h16v16h-16zM171 950h16v16h-16zM187 950h16v16h-16zM203 950h16v16h-16zM219 950h16v16h-16zM267 950h16v16h-16zM299 950h16v16h-16zM331 950h16v16h-16zM347 950h16v16h-16zM443 950h16v16h-16zM491 950h16v16h-16zM507 950h16v16h-16zM555 950h16v16h-16zM571 950h1v16h-1z"/>
<path fill="#f4f5f5" d="M75 86h16v16h-16zM171 86h16v16h-16z"/>
<path fill="#f2f4f5" d="M139 86h16v16h-16z"/>
<path fill="#f3f5f5" d="M187 86h16v16h-16z"/>
<path fill="#d9e6e9" d="M59 102h16v16h-16zM107 182h16v16h-16zM155 182h16v16h-16zM219 342h16v16h-16z"/>
<path fill="#d4e3e7" d="M75 102h16v16h-16zM107 310h16v16h-16zM123 310h16v16h-16zM75 342h16v16h-16zM59 438h16v16h-16zM123 550h16v16h-16zM123 742h16v16h-16z"/>
<path fill="#ccdfe4" d="M91 102h16v16h-16zM139 310h16v16h-16zM171 310h16v16h-16zM187 326h16v16h-16zM171 342h16v16h-16zM187 342h16v16h-16zM171 438h16v16h-16zM187 630h16v16h-16zM171 726h16v16h-16z"/>
<path fill="#cadee3" d="M107 102h16v16h-16zM203 102h16v16h-16zM75 310h16v16h-16zM75 534h16v16h-16zM107 534h16v16h-16zM139 726h16v16h-16z"/>
<path fill="#c8dde3" d="M123 102h16v16h-16zM155 566h16v16h-16zM107 630h16v16h-16z"/>
<path fill="#cadee4" d="M139 102h16v16h-16z"/>
<path fill="#d7e4e8" d="M155 102h16v16h-16zM59 742h16v16h-16z"/>
<path fill="#c2dae0" d="M171 102h16v16h-16z"/>
<path fill="#d1e1e6" d="M187 102h16v16h-16zM75 326h16v16h-16zM139 630h16v16h-16zM123 726h16v16h-16zM107 918h16v16h-16z"/>
<path fill="#c2dae1" d="M219 102h16v16h-16zM75 742h16v16h-16zM91 742h16v16h-16z"/>
<path fill="#e2e4e5" d="M235 102h16v16h-16z"/>
<path fill="#cacaca" d="M251 102h16v16h-16zM491 102h16v16h-16zM267 438h16v16h-16zM267 454h16v16h-16zM411 630h16v16h-16zM347 726h16v16h-16zM363 726h16v16h-16zM507 918h16v16h-16zM267 934h16v16h-16zM299 934h16v16h-16z"/>
<path fill="#d5d5d5" d="M267 102h16v16h-16zM363 182h16v16h-16zM411 182h16v16h-16zM315 198h16v16h-16zM443 198h16v16h-16zM283 246h16v16h-16zM347 374h16v16h-16zM347 438h16v16h-16zM443 438h16v16h-16zM251 486h16v16h-16zM411 486h16v16h-16zM443 534h16v16h-16zM523 534h16v16h-16zM251 630h16v16h-16zM459 678h16v16h-16zM507 822h16v16h-16zM299 838h16v16h-16zM251 870h16v16h-16zM299 870h16v16h-16zM315 966h16v16h-16zM331 966h16v16h-16zM395 966h16v16h-16zM507 966h16v16h-16z"/>
<path fill="#cdcdcd" d="M283 102h16v16h-16zM267 118h16v16h-16zM315 182h16v16h-16zM427 182h16v16h-16zM491 438h16v16h-16zM331 534h16v16h-16zM283 550h16v16h-16zM315 630h16v16h-16zM251 646h16v16h-16zM315 646h16v16h-16zM331 646h16v16h-16zM475 678h16v16h-16zM427 726h16v16h-16z"/>
<path fill="#c9c9c9" d="M299 102h16v16h-16zM475 102h16v16h-16zM507 102h16v16h-16zM379 438h16v16h-16zM315 454h16v16h-16zM459 918h16v16h-16zM475 918h16v16h-16z"/>
<path fill="#cbcbcb" d="M315 102h16v16h-16zM347 102h16v16h-16zM395 630h16v16h-16zM507 630h16v16h-16zM267 646h16v16h-16zM315 838h16v16h-16zM523 918h16v16h-16zM539 918h16v16h-16z"/>
<path fill="#d3d3d3" d="M331 102h16v16h-16zM523 102h16v16h-16zM283 150h16v16h-16zM347 150h16v16h-16zM331 182h16v16h-16zM475 182h16v16h-16zM251 198h16v16h-16zM251 310h16v16h-16zM363 310h16v16h-16zM427 310h16v16h-16zM331 374h16v16h-16zM395 438h16v16h-16zM427 486h16v16h-16zM539 486h16v16h-16zM267 502h16v16h-16zM363 534h16v16h-16zM539 534h16v16h-16zM491 630h16v16h-16zM299 646h16v16h-16zM395 646h16v16h-16zM395 726h16v16h-16zM475 726h16v16h-16zM283 838h16v16h-16zM443 870h16v16h-16zM283 886h16v16h-16zM315 918h16v16h-16zM283 934h16v16h-16zM347 966h16v16h-16zM363 966h16v16h-16z"/>
<path fill="#d0d0d0" d="M363 102h16v16h-16zM267 150h16v16h-16zM363 150h16v16h-16zM395 150h16v16h-16zM267 374h16v16h-16zM299 374h16v16h-16zM539 374h16v16h-16zM363 438h16v16h-16zM475 438h16v16h-16zM283 454h16v16h-16zM315 486h16v16h-16zM379 534h16v16h-16zM347 550h16v16h-16zM283 646h16v16h-16zM411 678h16v16h-16zM443 678h16v16h-16zM571 822h1v16h-1zM251 838h16v16h-16zM283 918h16v16h-16zM491 918h16v16h-16z"/>
<path fill="#cccccc" d="M379 102h16v16h-16zM395 102h16v16h-16zM427 438h16v16h-16zM315 534h16v16h-16zM363 550h16v16h-16zM283 630h16v16h-16zM331 630h16v16h-16zM443 630h16v16h-16zM475 630h16v16h-16zM315 726h16v16h-16zM459 870h16v16h-16zM363 918h16v16h-16zM315 934h16v16h-16z"/>
<path fill="#cfcfcf" d="M411 102h16v16h-16zM427 102h16v16h-16zM443 102h16v16h-16zM251 118h16v16h-16zM267 182h16v16h-16zM251 454h16v16h-16zM299 486h16v16h-16zM395 486h16v16h-16zM267 534h16v16h-16zM283 534h16v16h-16zM267 550h16v16h-16zM379 630h16v16h-16zM523 630h16v16h-16zM267 678h16v16h-16zM299 678h16v16h-16zM347 678h16v16h-16zM379 678h16v16h-16zM267 726h16v16h-16zM379 726h16v16h-16zM523 870h16v16h-16zM299 918h16v16h-16z"/>
<path fill="#dadada" d="M459 102h16v16h-16zM315 118h16v16h-16zM251 150h16v16h-16zM379 310h16v16h-16zM283 486h16v16h-16zM379 486h16v16h-16zM507 486h16v16h-16zM379 502h16v16h-16zM507 534h16v16h-16zM411 726h16v16h-16zM251 790h16v16h-16zM427 822h16v16h-16zM411 966h16v16h-16zM427 966h16v16h-16z"/>
<path fill="#f2f2f2" d="M539 102h16v16h-16zM555 102h16v16h-16zM571 102h1v16h-1zM59 118h16v16h-16zM75 118h16v16h-16zM91 118h16v16h-16zM107 118h16v16h-16zM123 118h16v16h-16zM139 118h16v16h-16zM155 118h16v16h-16zM171 118h16v16h-16zM187 118h16v16h-16zM203 118h16v16h-16zM219 118h16v16h-16zM331 118h16v16h-16zM347 118h16v16h-16zM363 118h16v16h-16zM379 118h16v16h-16zM395 118h16v16h-16zM411 118h16v16h-16zM427 118h16v16h-16zM443 118h16v16h-16zM459 118h16v16h-16zM475 118h16v16h-16zM491 118h16v16h-16zM507 118h16v16h-16zM523 118h16v16h-16zM539 118h16v16h-16zM555 118h16v16h-16zM571 118h1v16h-1zM251 134h16v16h-16zM219 182h16v16h-16zM571 182h1v16h-1zM59 198h16v16h-16zM75 198h16v16h-16zM91 198h16v16h-16zM107 198h16v16h-16zM123 198h16v16h-16zM139 198h16v16h-16zM155 198h16v16h-16zM171 198h16v16h-16zM187 198h16v16h-16zM203 198h16v16h-16zM219 198h16v16h-16zM491 198h16v16h-16zM507 198h16v16h-16zM523 198h16v16h-16zM539 198h16v16h-16zM555 198h16v16h-16zM571 198h1v16h-1zM59 214h16v16h-16zM75 214h16v16h-16zM91 214h16v16h-16zM107 214h16v16h-16zM123 214h16v16h-16zM139 214h16v16h-16zM155 214h16v16h-16zM171 214h16v16h-16zM187 214h16v16h-16zM203 214h16v16h-16zM219 214h16v16h-16zM235 214h16v16h-16zM251 214h16v16h-16zM267 214h16v16h-16zM283 214h16v16h-16zM299 214h16v16h-16zM315 214h16v16h-16zM331 214h16v16h-16zM347 214h16v16h-16zM363 214h16v16h-16zM379 214h16v16h-16zM395 214h16v16h-16zM411 214h16v16h-16zM427 214h16v16h-16zM443 214h16v16h-16zM459 214h16v16h-16zM475 214h16v16h-16zM491 214h16v16h-16zM507 214h16v16h-16zM523 214h16v16h-16zM539 214h16v16h-16zM555 214h16v16h-16zM571 214h1v16h-1zM491 310h16v16h-16zM507 310h16v16h-16zM523 310h16v16h-16zM539 310h16v16h-16zM555 310h16v16h-16zM571 310h1v16h-1zM491 326h16v16h-16zM507 326h16v16h-16zM523 326h16v16h-16zM539 326h16v16h-16zM555 326h16v16h-16zM571 326h1v16h-1zM251 342h16v16h-16zM267 342h16v16h-16zM283 342h16v16h-16zM299 342h16v16h-16zM315 342h16v16h-16zM331 342h16v16h-16zM347 342h16v16h-16zM363 342h16v16h-16zM379 342h16v16h-16zM395 342h16v16h-16zM411 342h16v16h-16zM427 342h16v16h-16zM443 342h16v16h-16zM459 342h16v16h-16zM475 342h16v16h-16zM491 342h16v16h-16zM507 342h16v16h-16zM523 342h16v16h-16zM539 342h16v16h-16zM555 342h16v16h-16zM571 342h1v16h-1zM235 358h16v16h-16zM507 438h16v16h-16zM523 438h16v16h-16zM539 438h16v16h-16zM555 438h16v16h-16zM571 438h1v16h-1zM107 454h16v16h-16zM123 454h16v16h-16zM139 454h16v16h-16zM155 454h16v16h-16zM171 454h16v16h-16zM187 454h16v16h-16zM203 454h16v16h-16zM219 454h16v16h-16zM347 454h16v16h-16zM363 454h16v16h-16zM379 454h16v16h-16zM395 454h16v16h-16zM411 454h16v16h-16zM427 454h16v16h-16zM443 454h16v16h-16zM459 454h16v16h-16zM475 454h16v16h-16zM491 454h16v16h-16zM507 454h16v16h-16zM523 454h16v16h-16zM539 454h16v16h-16zM555 454h16v16h-16zM571 454h1v16h-1zM235 486h16v16h-16zM219 534h16v16h-16zM571 534h1v16h-1zM219 550h16v16h-16zM395 550h16v16h-16zM411 550h16v16h-16zM427 550h16v16h-16zM443 550h16v16h-16zM459 550h16v16h-16zM475 550h16v16h-16zM491 550h16v16h-16zM507 550h16v16h-16zM523 550h16v16h-16zM539 550h16v16h-16zM555 550h16v16h-16zM571 550h1v16h-1zM187 566h16v16h-16zM203 566h16v16h-16zM219 566h16v16h-16zM235 566h16v16h-16zM251 566h16v16h-16zM267 566h16v16h-16zM283 566h16v16h-16zM299 566h16v16h-16zM315 566h16v16h-16zM331 566h16v16h-16zM347 566h16v16h-16zM363 566h16v16h-16zM379 566h16v16h-16zM395 566h16v16h-16zM411 566h16v16h-16zM427 566h16v16h-16zM443 566h16v16h-16zM459 566h16v16h-16zM475 566h16v16h-16zM491 566h16v16h-16zM507 566h16v16h-16zM523 566h16v16h-16zM539 566h16v16h-16zM555 566h16v16h-16zM571 566h1v16h-1zM203 630h16v16h-16zM219 630h16v16h-16zM539 630h16v16h-16zM555 630h16v16h-16zM571 630h1v16h-1zM139 646h16v16h-16zM155 646h16v16h-16zM171 646h16v16h-16zM187 646h16v16h-16zM203 646h16v16h-16zM219 646h16v16h-16zM443 646h16v16h-16zM475 646h16v16h-16zM507 646h16v16h-16zM539 646h16v16h-16zM555 646h16v16h-16zM571 646h1v16h-1zM267 710h16v16h-16zM395 710h16v16h-16zM475 710h16v16h-16zM219 726h16v16h-16zM523 726h16v16h-16zM539 726h16v16h-16zM555 726h16v16h-16zM571 726h1v16h-1zM203 742h16v16h-16zM219 742h16v16h-16zM331 742h16v16h-16zM347 742h16v16h-16zM363 742h16v16h-16zM379 742h16v16h-16zM395 742h16v16h-16zM411 742h16v16h-16zM427 742h16v16h-16zM443 742h16v16h-16zM459 742h16v16h-16zM475 742h16v16h-16zM491 742h16v16h-16zM507 742h16v16h-16zM523 742h16v16h-16zM539 742h16v16h-16zM555 742h16v16h-16zM571 742h1v16h-1zM507 758h16v16h-16zM507 774h16v16h-16zM171 838h16v16h-16zM187 838h16v16h-16zM203 838h16v16h-16zM219 838h16v16h-16zM59 854h16v16h-16zM75 854h16v16h-16zM91 854h16v16h-16zM107 854h16v16h-16zM123 854h16v16h-16zM139 854h16v16h-16zM155 854h16v16h-16zM171 854h16v16h-16zM187 854h16v16h-16zM203 854h16v16h-16zM219 854h16v16h-16zM331 854h16v16h-16zM347 854h16v16h-16zM363 854h16v16h-16zM379 854h16v16h-16zM395 854h16v16h-16zM411 854h16v16h-16zM427 854h16v16h-16zM443 854h16v16h-16zM459 854h16v16h-16zM475 854h16v16h-16zM491 854h16v16h-16zM507 854h16v16h-16zM523 854h16v16h-16zM539 854h16v16h-16zM555 854h16v16h-16zM571 854h1v16h-1zM139 918h16v16h-16zM155 918h16v16h-16zM171 918h16v16h-16zM187 918h16v16h-16zM203 918h16v16h-16zM219 918h16v16h-16zM59 934h16v16h-16zM75 934h16v16h-16zM91 934h16v16h-16zM107 934h16v16h-16zM123 934h16v16h-16zM139 934h16v16h-16zM155 934h16v16h-16zM171 934h16v16h-16zM187 934h16v16h-16zM203 934h16v16h-16zM219 934h16v16h-16zM331 934h16v16h-16zM347 934h16v16h-16zM363 934h16v16h-16zM379 934h16v16h-16zM395 934h16v16h-16zM411 934h16v16h-16zM427 934h16v16h-16zM443 934h16v16h-16zM459 934h16v16h-16zM475 934h16v16h-16zM491 934h16v16h-16zM507 934h16v16h-16zM523 934h16v16h-16zM539 934h16v16h-16zM555 934h16v16h-16zM571 934h1v16h-1zM283 950h16v16h-16zM363 950h16v16h-16zM379 950h16v16h-16zM395 950h16v16h-16zM235 966h16v16h-16z"/>
<path fill="#e7e7e7" d="M235 118h16v16h-16zM331 166h16v16h-16zM475 166h16v16h-16zM507 166h16v16h-16zM523 166h16v16h-16zM539 166h16v16h-16zM251 518h16v16h-16zM267 518h16v16h-16zM331 518h16v16h-16zM411 518h16v16h-16zM427 518h16v16h-16zM443 518h16v16h-16zM491 518h16v16h-16zM539 518h16v16h-16zM299 582h16v16h-16zM363 838h16v16h-16zM443 838h16v16h-16zM459 838h16v16h-16zM491 838h16v16h-16zM235 918h16v16h-16z"/>
<path fill="#c4c4c4" d="M283 118h16v16h-16z"/>
<path fill="#d7d7d7" d="M299 118h16v16h-16zM315 150h16v16h-16zM331 150h16v16h-16zM315 374h16v16h-16zM347 646h16v16h-16zM283 678h16v16h-16zM267 694h16v16h-16zM299 774h16v16h-16zM299 822h16v16h-16zM315 822h16v16h-16zM379 822h16v16h-16zM411 870h16v16h-16zM475 870h16v16h-16zM267 886h16v16h-16z"/>
<path fill="#f7f7f7" d="M59 134h16v16h-16zM75 134h16v16h-16zM91 134h16v16h-16zM107 134h16v16h-16zM123 134h16v16h-16zM139 134h16v16h-16zM155 134h16v16h-16zM171 134h16v16h-16zM187 134h16v16h-16zM203 134h16v16h-16zM219 134h16v16h-16zM267 134h16v16h-16zM283 134h16v16h-16zM299 134h16v16h-16zM331 134h16v16h-16zM347 134h16v16h-16zM363 134h16v16h-16zM395 134h16v16h-16zM411 134h16v16h-16zM427 134h16v16h-16zM443 134h16v16h-16zM459 134h16v16h-16zM475 134h16v16h-16zM491 134h16v16h-16zM507 134h16v16h-16zM523 134h16v16h-16zM539 134h16v16h-16zM555 134h16v16h-16zM571 134h1v16h-1zM59 422h16v16h-16zM75 422h16v16h-16zM91 422h16v16h-16zM107 422h16v16h-16zM123 422h16v16h-16zM139 422h16v16h-16zM155 422h16v16h-16zM171 422h16v16h-16zM187 422h16v16h-16zM203 422h16v16h-16zM219 422h16v16h-16zM235 422h16v16h-16zM251 422h16v16h-16zM267 422h16v16h-16zM283 422h16v16h-16zM299 422h16v16h-16zM315 422h16v16h-16zM331 422h16v16h-16zM347 422h16v16h-16zM363 422h16v16h-16zM379 422h16v16h-16zM395 422h16v16h-16zM411 422h16v16h-16zM427 422h16v16h-16zM443 422h16v16h-16zM459 422h16v16h-16zM475 422h16v16h-16zM491 422h16v16h-16zM507 422h16v16h-16zM523 422h16v16h-16zM539 422h16v16h-16zM555 422h16v16h-16zM571 422h1v16h-1z"/>
<path fill="#f5f5f5" d="M235 134h16v16h-16zM235 150h16v16h-16zM235 470h16v16h-16zM251 470h16v16h-16zM347 470h16v16h-16zM555 486h16v16h-16zM235 502h16v16h-16zM235 886h16v16h-16zM235 950h16v16h-16zM411 950h16v16h-16zM523 950h16v16h-16zM539 950h16v16h-16z"/>
<path fill="#f1f1f1" d="M315 134h16v16h-16zM379 134h16v16h-16zM235 326h16v16h-16zM475 326h16v16h-16zM475 502h16v16h-16zM555 518h16v16h-16zM251 598h16v16h-16zM267 598h16v16h-16zM347 598h16v16h-16zM363 598h16v16h-16zM251 662h16v16h-16zM283 662h16v16h-16zM331 662h16v16h-16zM347 662h16v16h-16zM235 694h16v16h-16zM347 710h16v16h-16zM171 822h16v16h-16zM187 822h16v16h-16zM203 822h16v16h-16zM219 822h16v16h-16zM459 950h16v16h-16z"/>
<path fill="#dfedf1" d="M59 150h16v16h-16zM59 390h16v16h-16zM59 486h16v16h-16zM187 790h16v16h-16z"/>
<path fill="#cae2e8" d="M75 150h16v16h-16z"/>
<path fill="#cee4ea" d="M91 150h16v16h-16zM75 486h16v16h-16zM123 486h16v16h-16zM187 966h16v16h-16z"/>
<path fill="#daeaef" d="M107 150h16v16h-16zM139 246h16v16h-16zM155 246h16v16h-16zM171 278h16v16h-16zM171 982h16v13h-16z"/>
<path fill="#dbdbdb" d="M299 150h16v16h-16zM491 182h16v16h-16zM283 198h16v16h-16zM411 198h16v16h-16zM267 246h16v16h-16zM299 310h16v16h-16zM379 374h16v16h-16zM411 502h16v16h-16zM379 550h16v16h-16zM331 582h16v16h-16zM395 678h16v16h-16zM331 822h16v16h-16zM395 822h16v16h-16zM475 822h16v16h-16zM539 966h16v16h-16z"/>
<path fill="#e3e3e3" d="M379 150h16v16h-16zM267 230h16v16h-16zM331 230h16v16h-16zM395 230h16v16h-16zM475 230h16v16h-16zM491 230h16v16h-16zM523 230h16v16h-16zM315 502h16v16h-16zM443 502h16v16h-16zM507 726h16v16h-16zM251 854h16v16h-16zM315 854h16v16h-16zM283 966h16v16h-16z"/>
<path fill="#e7edee" d="M59 166h16v16h-16zM155 166h16v16h-16zM171 166h16v16h-16zM171 518h16v16h-16z"/>
<path fill="#dfe9eb" d="M75 166h16v16h-16zM139 166h16v16h-16z"/>
<path fill="#e1eaec" d="M91 166h16v16h-16zM187 358h16v16h-16zM219 358h16v16h-16z"/>
<path fill="#e8edef" d="M107 166h16v16h-16zM155 518h16v16h-16z"/>
<path fill="#e4ebed" d="M123 166h16v16h-16zM75 358h16v16h-16zM75 518h16v16h-16zM155 838h16v16h-16z"/>
<path fill="#e5ecee" d="M187 166h16v16h-16zM107 518h16v16h-16zM123 518h16v16h-16z"/>
<path fill="#edf0f1" d="M203 166h16v16h-16z"/>
<path fill="#eeeeee" d="M235 166h16v16h-16zM427 246h16v16h-16zM523 246h16v16h-16zM267 262h16v16h-16zM475 310h16v16h-16zM379 326h16v16h-16zM235 518h16v16h-16zM555 534h16v16h-16zM283 598h16v16h-16zM299 598h16v16h-16zM395 662h16v16h-16zM507 678h16v16h-16z"/>
<path fill="#e5e5e5" d="M251 166h16v16h-16zM363 166h16v16h-16zM379 166h16v16h-16zM459 230h16v16h-16zM507 230h16v16h-16zM507 246h16v16h-16zM411 326h16v16h-16zM251 758h16v16h-16zM571 838h1v16h-1zM571 918h1v16h-1z"/>
<path fill="#e6e6e6" d="M267 166h16v16h-16zM347 166h16v16h-16zM475 198h16v16h-16zM251 262h16v16h-16zM315 262h16v16h-16zM363 518h16v16h-16zM475 518h16v16h-16zM507 518h16v16h-16zM411 646h16v16h-16zM443 774h16v16h-16zM491 774h16v16h-16zM507 838h16v16h-16zM523 838h16v16h-16z"/>
<path fill="#e2e2e2" d="M283 166h16v16h-16zM315 166h16v16h-16zM427 166h16v16h-16zM251 230h16v16h-16zM283 230h16v16h-16zM315 230h16v16h-16zM411 230h16v16h-16zM299 262h16v16h-16zM427 374h16v16h-16zM379 518h16v16h-16zM363 582h16v16h-16zM411 838h16v16h-16zM555 838h16v16h-16zM299 854h16v16h-16zM475 966h16v16h-16zM523 966h16v16h-16z"/>
<path fill="#eaeaea" d="M299 166h16v16h-16zM411 166h16v16h-16zM363 246h16v16h-16zM411 246h16v16h-16zM235 454h16v16h-16zM283 518h16v16h-16zM395 518h16v16h-16zM235 630h16v16h-16zM411 758h16v16h-16zM395 774h16v16h-16zM331 838h16v16h-16zM427 838h16v16h-16zM539 838h16v16h-16z"/>
<path fill="#e9e9e9" d="M395 166h16v16h-16zM459 166h16v16h-16zM283 262h16v16h-16zM283 326h16v16h-16zM459 518h16v16h-16zM235 534h16v16h-16zM299 758h16v16h-16zM347 758h16v16h-16zM331 774h16v16h-16zM347 838h16v16h-16zM379 838h16v16h-16zM475 838h16v16h-16z"/>
<path fill="#e1e1e1" d="M443 166h16v16h-16zM507 182h16v16h-16zM379 230h16v16h-16zM443 230h16v16h-16zM427 534h16v16h-16zM251 582h16v16h-16zM379 774h16v16h-16zM299 790h16v16h-16zM299 966h16v16h-16z"/>
<path fill="#e8e8e8" d="M491 166h16v16h-16zM235 182h16v16h-16zM427 230h16v16h-16zM347 326h16v16h-16zM331 454h16v16h-16zM347 518h16v16h-16zM235 646h16v16h-16zM235 822h16v16h-16zM267 854h16v16h-16z"/>
<path fill="#e0e9eb" d="M59 182h16v16h-16z"/>
<path fill="#d0e1e5" d="M75 182h16v16h-16zM139 182h16v16h-16zM203 342h16v16h-16zM187 534h16v16h-16zM187 550h16v16h-16z"/>
<path fill="#d3e2e7" d="M91 182h16v16h-16zM59 566h16v16h-16zM59 726h16v16h-16z"/>
<path fill="#dbe6e9" d="M123 182h16v16h-16z"/>
<path fill="#dae6e9" d="M171 182h16v16h-16z"/>
<path fill="#cee0e5" d="M187 182h16v16h-16zM91 310h16v16h-16zM155 438h16v16h-16zM155 534h16v16h-16zM75 550h16v16h-16zM171 550h16v16h-16zM59 918h16v16h-16z"/>
<path fill="#e7ecee" d="M203 182h16v16h-16zM75 838h16v16h-16z"/>
<path fill="#cecece" d="M251 182h16v16h-16zM443 182h16v16h-16zM315 310h16v16h-16zM299 454h16v16h-16zM251 534h16v16h-16zM331 550h16v16h-16zM331 726h16v16h-16zM459 726h16v16h-16zM555 918h16v16h-16z"/>
<path fill="#d6d6d6" d="M299 182h16v16h-16zM395 182h16v16h-16zM459 182h16v16h-16zM267 310h16v16h-16zM411 374h16v16h-16zM283 502h16v16h-16zM331 502h16v16h-16zM491 534h16v16h-16zM283 726h16v16h-16zM443 726h16v16h-16zM331 870h16v16h-16zM491 870h16v16h-16zM443 918h16v16h-16zM267 966h16v16h-16z"/>
<path fill="#d9d9d9" d="M539 182h16v16h-16zM411 310h16v16h-16zM283 374h16v16h-16zM443 374h16v16h-16zM475 374h16v16h-16zM507 374h16v16h-16zM347 502h16v16h-16zM315 582h16v16h-16zM347 822h16v16h-16zM459 822h16v16h-16zM427 870h16v16h-16zM251 886h16v16h-16zM459 966h16v16h-16z"/>
<path fill="#ededed" d="M555 182h16v16h-16zM379 246h16v16h-16zM315 326h16v16h-16zM459 326h16v16h-16zM315 598h16v16h-16zM331 758h16v16h-16zM363 758h16v16h-16zM427 758h16v16h-16z"/>
<path fill="#ebebeb" d="M235 198h16v16h-16zM331 246h16v16h-16zM475 246h16v16h-16zM235 310h16v16h-16zM267 326h16v16h-16zM395 326h16v16h-16zM299 518h16v16h-16zM235 550h16v16h-16zM459 758h16v16h-16zM395 838h16v16h-16zM571 886h1v16h-1z"/>
<path fill="#dedede" d="M347 198h16v16h-16zM347 486h16v16h-16zM251 502h16v16h-16zM395 534h16v16h-16zM475 534h16v16h-16zM427 678h16v16h-16zM299 694h16v16h-16zM315 774h16v16h-16zM267 870h16v16h-16zM571 870h1v16h-1z"/>
<path fill="#dfdfdf" d="M427 198h16v16h-16zM251 246h16v16h-16zM315 518h16v16h-16zM267 582h16v16h-16zM283 582h16v16h-16zM347 582h16v16h-16zM363 774h16v16h-16zM411 774h16v16h-16zM283 870h16v16h-16zM539 870h16v16h-16z"/>
<path fill="#e8f0f2" d="M59 230h16v16h-16zM75 614h16v16h-16z"/>
<path fill="#ddebee" d="M75 230h16v16h-16zM187 230h16v16h-16zM171 582h16v16h-16z"/>
<path fill="#e0ecef" d="M91 230h16v16h-16z"/>
<path fill="#dfecef" d="M107 230h16v16h-16z"/>
<path fill="#e7f0f2" d="M123 230h16v16h-16z"/>
<path fill="#e3eef1" d="M139 230h16v16h-16zM139 582h16v16h-16z"/>
<path fill="#e0ecf0" d="M155 230h16v16h-16zM107 582h16v16h-16z"/>
<path fill="#e1edf0" d="M171 230h16v16h-16zM203 582h16v16h-16z"/>
<path fill="#e2edf0" d="M203 230h16v16h-16zM123 614h16v16h-16zM171 614h16v16h-16z"/>
<path fill="#e5eff2" d="M219 230h16v16h-16zM59 582h16v16h-16z"/>
<path fill="#f3f4f4" d="M235 230h16v16h-16zM123 710h16v16h-16z"/>
<path fill="#dcdcdc" d="M299 230h16v16h-16zM459 374h16v16h-16zM491 486h16v16h-16zM299 534h16v16h-16zM459 534h16v16h-16zM427 774h16v16h-16zM507 870h16v16h-16zM315 886h16v16h-16z"/>
<path fill="#e4e4e4" d="M347 230h16v16h-16zM363 230h16v16h-16zM443 246h16v16h-16zM523 518h16v16h-16zM315 790h16v16h-16z"/>
<path fill="#e2eef2" d="M59 246h16v16h-16zM59 790h16v16h-16z"/>
<path fill="#d0e5eb" d="M75 246h16v16h-16zM139 262h16v16h-16zM107 486h16v16h-16zM91 678h16v16h-16zM155 790h16v16h-16zM75 966h16v16h-16z"/>
<path fill="#dcebef" d="M107 246h16v16h-16zM75 774h16v16h-16zM59 966h16v16h-16z"/>
<path fill="#d2e6eb" d="M123 246h16v16h-16zM139 374h16v16h-16z"/>
<path fill="#dbebef" d="M187 246h16v16h-16zM59 262h16v16h-16zM187 262h16v16h-16zM59 278h16v16h-16zM171 374h16v16h-16zM171 390h16v16h-16z"/>
<path fill="#e9f2f4" d="M203 246h16v16h-16z"/>
<path fill="#eef5f6" d="M219 246h16v16h-16z"/>
<path fill="#f2f3f3" d="M235 246h16v16h-16z"/>
<path fill="#e0e0e0" d="M299 246h16v16h-16zM443 486h16v16h-16zM267 774h16v16h-16zM283 774h16v16h-16zM347 774h16v16h-16zM475 774h16v16h-16zM283 854h16v16h-16z"/>
<path fill="#efefef" d="M395 246h16v16h-16zM491 246h16v16h-16zM299 326h16v16h-16zM331 326h16v16h-16zM427 646h16v16h-16zM523 646h16v16h-16zM267 758h16v16h-16zM283 758h16v16h-16zM395 758h16v16h-16zM475 758h16v16h-16zM235 854h16v16h-16z"/>
<path fill="#d7e8ed" d="M75 262h16v16h-16z"/>
<path fill="#deecf0" d="M91 262h16v16h-16z"/>
<path fill="#d3e7ec" d="M107 262h16v16h-16zM123 262h16v16h-16zM123 390h16v16h-16zM75 406h16v16h-16zM171 598h16v16h-16z"/>
<path fill="#d8e9ee" d="M171 262h16v16h-16zM139 278h16v16h-16zM123 598h16v16h-16zM139 598h16v16h-16zM123 774h16v16h-16zM91 870h16v16h-16zM123 982h16v13h-16z"/>
<path fill="#f0f6f7" d="M203 262h16v16h-16zM219 262h16v16h-16z"/>
<path fill="#f5f6f6" d="M235 262h16v16h-16zM123 950h16v16h-16z"/>
<path fill="#c6e0e7" d="M91 278h16v16h-16zM123 678h16v16h-16z"/>
<path fill="#d5e8ed" d="M107 278h16v16h-16zM203 278h16v16h-16zM203 374h16v16h-16zM75 678h16v16h-16z"/>
<path fill="#e8f2f4" d="M187 278h16v16h-16z"/>
<path fill="#e3eff2" d="M219 278h16v16h-16zM59 774h16v16h-16zM91 790h16v16h-16z"/>
<path fill="#f8fafa" d="M235 278h16v16h-16z"/>
<path fill="#e4eef1" d="M59 294h16v16h-16z"/>
<path fill="#e6f0f2" d="M75 294h16v16h-16z"/>
<path fill="#deecef" d="M91 294h16v16h-16z"/>
<path fill="#dae9ee" d="M107 294h16v16h-16z"/>
<path fill="#dcebee" d="M123 294h16v16h-16z"/>
<path fill="#f3f6f7" d="M139 294h16v16h-16z"/>
<path fill="#fafafa" d="M155 294h16v16h-16zM171 294h16v16h-16zM187 294h16v16h-16zM203 294h16v16h-16zM219 294h16v16h-16zM235 294h16v16h-16zM251 294h16v16h-16zM267 294h16v16h-16zM283 294h16v16h-16zM299 294h16v16h-16zM315 294h16v16h-16zM331 294h16v16h-16zM347 294h16v16h-16zM363 294h16v16h-16zM379 294h16v16h-16zM395 294h16v16h-16zM411 294h16v16h-16zM427 294h16v16h-16zM443 294h16v16h-16zM459 294h16v16h-16zM475 294h16v16h-16zM491 294h16v16h-16zM507 294h16v16h-16zM523 294h16v16h-16zM539 294h16v16h-16zM555 294h16v16h-16zM571 294h1v16h-1zM331 390h16v16h-16zM219 582h16v16h-16zM379 582h16v16h-16zM395 582h16v16h-16zM411 582h16v16h-16zM427 582h16v16h-16zM443 582h16v16h-16zM459 582h16v16h-16zM475 582h16v16h-16zM491 582h16v16h-16zM507 582h16v16h-16zM523 582h16v16h-16zM539 582h16v16h-16zM555 582h16v16h-16zM571 582h1v16h-1zM235 598h16v16h-16z"/>
<path fill="#dde8ea" d="M59 310h16v16h-16z"/>
<path fill="#d5e4e7" d="M155 310h16v16h-16zM155 326h16v16h-16zM91 454h16v16h-16z"/>
<path fill="#cde0e5" d="M187 310h16v16h-16zM171 326h16v16h-16zM91 342h16v16h-16z"/>
<path fill="#cde0e4" d="M203 310h16v16h-16zM107 342h16v16h-16z"/>
<path fill="#ebeff0" d="M219 310h16v16h-16z"/>
<path fill="#d8e5e9" d="M59 326h16v16h-16z"/>
<path fill="#c7dde2" d="M91 326h16v16h-16zM139 534h16v16h-16zM171 630h16v16h-16zM155 726h16v16h-16z"/>
<path fill="#d3e3e7" d="M107 326h16v16h-16zM203 326h16v16h-16z"/>
<path fill="#cbdee4" d="M123 326h16v16h-16zM139 550h16v16h-16z"/>
<path fill="#d0e1e6" d="M139 326h16v16h-16zM107 438h16v16h-16z"/>
<path fill="#ebefef" d="M219 326h16v16h-16z"/>
<path fill="#ececec" d="M251 326h16v16h-16zM363 326h16v16h-16zM427 326h16v16h-16zM443 326h16v16h-16zM235 726h16v16h-16zM315 758h16v16h-16zM379 758h16v16h-16zM443 758h16v16h-16zM491 758h16v16h-16zM459 774h16v16h-16zM235 838h16v16h-16zM235 934h16v16h-16z"/>
<path fill="#dfe8eb" d="M59 342h16v16h-16z"/>
<path fill="#cbdfe4" d="M123 342h16v16h-16zM203 438h16v16h-16zM155 630h16v16h-16z"/>
<path fill="#cfe1e5" d="M139 342h16v16h-16zM123 566h16v16h-16zM91 646h16v16h-16z"/>
<path fill="#d1e2e6" d="M155 342h16v16h-16z"/>
<path fill="#f1f1f2" d="M235 342h16v16h-16z"/>
<path fill="#e6ecee" d="M59 358h16v16h-16zM139 358h16v16h-16zM139 518h16v16h-16zM91 838h16v16h-16z"/>
<path fill="#dbe7ea" d="M91 358h16v16h-16z"/>
<path fill="#dfe9ec" d="M107 358h16v16h-16z"/>
<path fill="#d7e5e9" d="M123 358h16v16h-16z"/>
<path fill="#e2eaec" d="M155 358h16v16h-16zM203 550h16v16h-16z"/>
<path fill="#e5eced" d="M171 358h16v16h-16zM123 838h16v16h-16z"/>
<path fill="#e0e9ec" d="M203 358h16v16h-16z"/>
<path fill="#e0edf1" d="M59 374h16v16h-16zM107 598h16v16h-16zM59 678h16v16h-16z"/>
<path fill="#cbe2e9" d="M91 374h16v16h-16z"/>
<path fill="#d4e7ec" d="M107 374h16v16h-16zM123 374h16v16h-16zM203 390h16v16h-16zM91 486h16v16h-16zM107 774h16v16h-16zM139 966h16v16h-16z"/>
<path fill="#dfedf0" d="M155 374h16v16h-16zM139 790h16v16h-16z"/>
<path fill="#d1e5eb" d="M187 374h16v16h-16zM155 390h16v16h-16zM107 870h16v16h-16z"/>
<path fill="#ebf3f5" d="M219 374h16v16h-16zM203 598h16v16h-16z"/>
<path fill="#c3c3c3" d="M571 374h1v16h-1z"/>
<path fill="#d3e6ec" d="M75 390h16v16h-16z"/>
<path fill="#c7e0e7" d="M91 390h16v16h-16z"/>
<path fill="#c8e1e8" d="M107 390h16v16h-16z"/>
<path fill="#cfe5ea" d="M139 390h16v16h-16zM107 678h16v16h-16zM123 966h16v16h-16zM59 982h16v13h-16z"/>
<path fill="#d9e9ee" d="M187 390h16v16h-16z"/>
<path fill="#edf4f6" d="M219 390h16v16h-16z"/>
<path fill="#e1eef2" d="M59 406h16v16h-16zM155 870h16v16h-16z"/>
<path fill="#f4f8f9" d="M91 406h16v16h-16z"/>
<path fill="#fafbfb" d="M203 406h16v16h-16z"/>
<path fill="#cfe0e5" d="M75 438h16v16h-16zM75 726h16v16h-16zM187 726h16v16h-16z"/>
<path fill="#bed8df" d="M91 438h16v16h-16z"/>
<path fill="#c5dbe1" d="M123 438h16v16h-16zM155 742h16v16h-16z"/>
<path fill="#cddfe4" d="M139 438h16v16h-16zM171 534h16v16h-16zM155 550h16v16h-16zM91 566h16v16h-16z"/>
<path fill="#c7dce2" d="M187 438h16v16h-16zM75 630h16v16h-16zM203 726h16v16h-16z"/>
<path fill="#e3eaec" d="M219 438h16v16h-16zM187 742h16v16h-16z"/>
<path fill="#c8c8c8" d="M283 438h16v16h-16zM459 630h16v16h-16zM267 742h16v16h-16zM251 918h16v16h-16zM347 918h16v16h-16zM411 918h16v16h-16zM251 934h16v16h-16z"/>
<path fill="#c7c7c7" d="M315 438h16v16h-16zM267 630h16v16h-16zM347 630h16v16h-16zM363 646h16v16h-16zM379 646h16v16h-16zM251 742h16v16h-16zM283 742h16v16h-16zM395 918h16v16h-16zM427 918h16v16h-16z"/>
<path fill="#c6c6c6" d="M459 438h16v16h-16zM491 726h16v16h-16zM331 918h16v16h-16z"/>
<path fill="#d8e5e8" d="M59 454h16v16h-16zM107 550h16v16h-16zM107 822h16v16h-16z"/>
<path fill="#c0d9e0" d="M75 454h16v16h-16zM171 742h16v16h-16z"/>
<path fill="#f1f4f4" d="M107 470h16v16h-16z"/>
<path fill="#f4f4f4" d="M395 470h16v16h-16zM443 470h16v16h-16zM491 470h16v16h-16zM507 470h16v16h-16zM59 662h16v16h-16zM75 662h16v16h-16zM91 662h16v16h-16zM107 662h16v16h-16zM123 662h16v16h-16zM139 662h16v16h-16zM155 662h16v16h-16zM171 662h16v16h-16zM187 662h16v16h-16zM203 662h16v16h-16zM219 662h16v16h-16zM235 662h16v16h-16zM267 662h16v16h-16zM299 662h16v16h-16zM315 662h16v16h-16zM363 662h16v16h-16zM379 662h16v16h-16zM411 662h16v16h-16zM427 662h16v16h-16zM443 662h16v16h-16zM459 662h16v16h-16zM475 662h16v16h-16zM491 662h16v16h-16zM507 662h16v16h-16zM523 662h16v16h-16zM539 662h16v16h-16zM555 662h16v16h-16zM571 662h1v16h-1zM59 710h16v16h-16zM75 710h16v16h-16zM91 710h16v16h-16zM107 710h16v16h-16zM139 710h16v16h-16zM155 710h16v16h-16zM171 710h16v16h-16zM187 710h16v16h-16zM219 710h16v16h-16zM235 710h16v16h-16zM283 710h16v16h-16zM315 710h16v16h-16zM331 710h16v16h-16zM379 710h16v16h-16zM427 710h16v16h-16zM491 710h16v16h-16zM507 710h16v16h-16zM523 710h16v16h-16zM539 710h16v16h-16zM555 710h16v16h-16zM571 710h1v16h-1zM235 758h16v16h-16z"/>
<path fill="#eaeff0" d="M59 518h16v16h-16z"/>
<path fill="#e9eeef" d="M91 518h16v16h-16zM187 518h16v16h-16z"/>
<path fill="#eef0f1" d="M203 518h16v16h-16z"/>
<path fill="#d6e4e8" d="M59 534h16v16h-16zM59 630h16v16h-16z"/>
<path fill="#d5e3e7" d="M91 534h16v16h-16z"/>
<path fill="#c6dce2" d="M123 534h16v16h-16zM91 630h16v16h-16zM107 742h16v16h-16z"/>
<path fill="#e5ebed" d="M203 534h16v16h-16zM139 838h16v16h-16z"/>
<path fill="#dde7ea" d="M59 550h16v16h-16zM59 822h16v16h-16z"/>
<path fill="#c9dee3" d="M91 550h16v16h-16zM107 726h16v16h-16z"/>
<path fill="#c3dbe1" d="M75 566h16v16h-16z"/>
<path fill="#d2e2e6" d="M107 566h16v16h-16zM123 630h16v16h-16zM107 646h16v16h-16z"/>
<path fill="#c5dce2" d="M139 566h16v16h-16zM91 918h16v16h-16z"/>
<path fill="#c9dde3" d="M171 566h16v16h-16zM75 646h16v16h-16z"/>
<path fill="#daeaee" d="M75 582h16v16h-16zM123 790h16v16h-16z"/>
<path fill="#d7e8ec" d="M91 582h16v16h-16z"/>
<path fill="#deebef" d="M123 582h16v16h-16z"/>
<path fill="#d9e9ed" d="M155 582h16v16h-16zM187 582h16v16h-16z"/>
<path fill="#e7f1f4" d="M59 598h16v16h-16z"/>
<path fill="#d1e6eb" d="M155 598h16v16h-16z"/>
<path fill="#eaf1f3" d="M59 614h16v16h-16zM107 758h16v16h-16zM139 758h16v16h-16z"/>
<path fill="#e5eff1" d="M91 614h16v16h-16z"/>
<path fill="#e5eef1" d="M107 614h16v16h-16z"/>
<path fill="#e7eff2" d="M139 614h16v16h-16z"/>
<path fill="#e9f0f2" d="M155 614h16v16h-16z"/>
<path fill="#e9f1f3" d="M187 614h16v16h-16z"/>
<path fill="#d9e5e9" d="M59 646h16v16h-16zM123 646h16v16h-16z"/>
<path fill="#f0f2f3" d="M203 710h16v16h-16z"/>
<path fill="#c3dae1" d="M91 726h16v16h-16z"/>
<path fill="#c4dbe1" d="M139 742h16v16h-16z"/>
<path fill="#eff3f5" d="M59 758h16v16h-16z"/>
<path fill="#edf3f4" d="M75 758h16v16h-16z"/>
<path fill="#ecf2f4" d="M91 758h16v16h-16z"/>
<path fill="#ebf1f3" d="M123 758h16v16h-16z"/>
<path fill="#f8f8f8" d="M155 758h16v16h-16zM171 758h16v16h-16zM187 758h16v16h-16zM203 758h16v16h-16zM219 758h16v16h-16zM523 758h16v16h-16zM539 758h16v16h-16zM555 758h16v16h-16zM571 758h1v16h-1zM475 886h16v16h-16z"/>
<path fill="#f5f8f9" d="M155 774h16v16h-16zM171 774h16v16h-16z"/>
<path fill="#f1f6f8" d="M187 774h16v16h-16z"/>
<path fill="#f3f7f8" d="M203 774h16v16h-16z"/>
<path fill="#dcecf0" d="M75 790h16v16h-16z"/>
<path fill="#e4eff3" d="M91 806h16v16h-16z"/>
<path fill="#d3e2e6" d="M75 822h16v16h-16zM91 822h16v16h-16zM123 822h16v16h-16zM139 822h16v16h-16zM155 822h16v16h-16z"/>
<path fill="#eceff0" d="M59 838h16v16h-16z"/>
<path fill="#e8edee" d="M107 838h16v16h-16z"/>
<path fill="#e4eff2" d="M59 870h16v16h-16z"/>
<path fill="#f9fafb" d="M155 886h16v16h-16z"/>
<path fill="#bbd7de" d="M75 918h16v16h-16z"/>
<path fill="#bdd8df" d="M123 918h16v16h-16z"/>
<path fill="#f5f5f6" d="M107 950h16v16h-16z"/>
<path fill="#d5e7ed" d="M107 966h16v16h-16z"/>
<path fill="#c3dee5" d="M75 982h16v13h-16zM139 982h16v13h-16z"/>
<path fill="#c1dde5" d="M91 982h16v13h-16zM203 982h16v13h-16z"/>
<path fill="#c4dfe6" d="M107 982h16v13h-16z"/>
<path fill="#c2dee5" d="M155 982h16v13h-16z"/>
<path fill="#c5dfe6" d="M187 982h16v13h-16z"/>
</svg>
</div></body></html>
